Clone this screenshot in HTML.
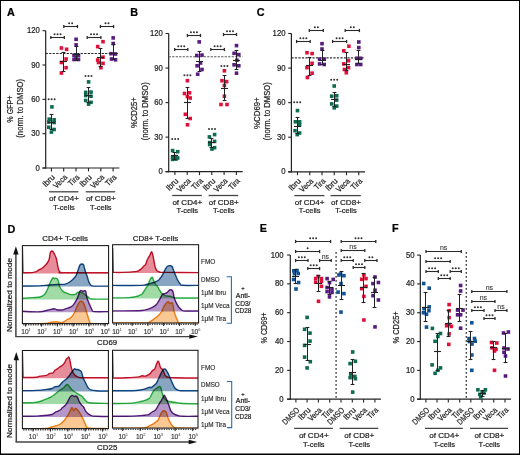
<!DOCTYPE html>
<html><head><meta charset="utf-8"><style>
html,body{margin:0;padding:0;background:#fff;}
svg{display:block;will-change:transform;}
text{font-family:"Liberation Sans",sans-serif;}
</style></head><body>
<svg width="520" height="455" viewBox="0 0 520 455" fill="#222">
<rect x="0.5" y="0.5" width="519" height="454" fill="none" stroke="#000" stroke-width="1"/>
<line x1="0" y1="454.3" x2="520" y2="454.3" stroke="#000" stroke-width="1.4"/>
<text x="7" y="15.8" font-size="10.8" stroke="#000" stroke-width="0.22" font-weight="bold" fill="#000">A</text>
<text x="130.3" y="15.5" font-size="10.8" stroke="#000" stroke-width="0.22" font-weight="bold" fill="#000">B</text>
<text x="256.8" y="16" font-size="10.8" stroke="#000" stroke-width="0.22" font-weight="bold" fill="#000">C</text>
<text x="7.6" y="232.7" font-size="10.8" stroke="#000" stroke-width="0.22" font-weight="bold" fill="#000">D</text>
<text x="259.7" y="232.2" font-size="10.8" stroke="#000" stroke-width="0.22" font-weight="bold" fill="#000">E</text>
<text x="392" y="232.2" font-size="10.8" stroke="#000" stroke-width="0.22" font-weight="bold" fill="#000">F</text>
<line x1="45.7" y1="30.7" x2="45.7" y2="168.5" stroke="#222" stroke-width="1.2"/>
<line x1="42.5" y1="168" x2="45.7" y2="168" stroke="#222" stroke-width="1.1"/>
<text x="39.8" y="170.55" font-size="8.6" stroke="#222" stroke-width="0.22" text-anchor="end" textLength="4.3" lengthAdjust="spacingAndGlyphs">0</text>
<line x1="42.5" y1="133.68" x2="45.7" y2="133.68" stroke="#222" stroke-width="1.1"/>
<text x="39.8" y="136.23" font-size="8.6" stroke="#222" stroke-width="0.22" text-anchor="end" textLength="8.6" lengthAdjust="spacingAndGlyphs">30</text>
<line x1="42.5" y1="99.35" x2="45.7" y2="99.35" stroke="#222" stroke-width="1.1"/>
<text x="39.8" y="101.9" font-size="8.6" stroke="#222" stroke-width="0.22" text-anchor="end" textLength="8.6" lengthAdjust="spacingAndGlyphs">60</text>
<line x1="42.5" y1="65.02" x2="45.7" y2="65.02" stroke="#222" stroke-width="1.1"/>
<text x="39.8" y="67.57" font-size="8.6" stroke="#222" stroke-width="0.22" text-anchor="end" textLength="8.6" lengthAdjust="spacingAndGlyphs">90</text>
<line x1="42.5" y1="30.7" x2="45.7" y2="30.7" stroke="#222" stroke-width="1.1"/>
<text x="39.8" y="33.25" font-size="8.6" stroke="#222" stroke-width="0.22" text-anchor="end" textLength="12.9" lengthAdjust="spacingAndGlyphs">120</text>
<line x1="42.5" y1="168" x2="119.4" y2="168" stroke="#222" stroke-width="1.2"/>
<line x1="51.4" y1="168" x2="51.4" y2="171.4" stroke="#222" stroke-width="1.1"/>
<line x1="63.7" y1="168" x2="63.7" y2="171.4" stroke="#222" stroke-width="1.1"/>
<line x1="76" y1="168" x2="76" y2="171.4" stroke="#222" stroke-width="1.1"/>
<line x1="88.5" y1="168" x2="88.5" y2="171.4" stroke="#222" stroke-width="1.1"/>
<line x1="100.8" y1="168" x2="100.8" y2="171.4" stroke="#222" stroke-width="1.1"/>
<line x1="113.1" y1="168" x2="113.1" y2="171.4" stroke="#222" stroke-width="1.1"/>
<line x1="45.7" y1="53.5" x2="117.8" y2="53.5" stroke="#222" stroke-width="1.1" stroke-dasharray="2.2 1.3"/>
<text x="55.4" y="177.8" font-size="8.2" stroke="#222" stroke-width="0.22" text-anchor="end" textLength="13.8" lengthAdjust="spacingAndGlyphs" transform="rotate(-45 55.4 177.8)">Ibru</text>
<text x="67.7" y="177.8" font-size="8.2" stroke="#222" stroke-width="0.22" text-anchor="end" textLength="15.8" lengthAdjust="spacingAndGlyphs" transform="rotate(-45 67.7 177.8)">Veca</text>
<text x="80" y="177.8" font-size="8.2" stroke="#222" stroke-width="0.22" text-anchor="end" textLength="12.2" lengthAdjust="spacingAndGlyphs" transform="rotate(-45 80 177.8)">Tira</text>
<text x="92.5" y="177.8" font-size="8.2" stroke="#222" stroke-width="0.22" text-anchor="end" textLength="13.8" lengthAdjust="spacingAndGlyphs" transform="rotate(-45 92.5 177.8)">Ibru</text>
<text x="104.8" y="177.8" font-size="8.2" stroke="#222" stroke-width="0.22" text-anchor="end" textLength="15.8" lengthAdjust="spacingAndGlyphs" transform="rotate(-45 104.8 177.8)">Veca</text>
<text x="117.1" y="177.8" font-size="8.2" stroke="#222" stroke-width="0.22" text-anchor="end" textLength="12.2" lengthAdjust="spacingAndGlyphs" transform="rotate(-45 117.1 177.8)">Tira</text>
<line x1="49" y1="191.8" x2="78.4" y2="191.8" stroke="#444" stroke-width="1.3"/>
<line x1="85.8" y1="191.8" x2="115.2" y2="191.8" stroke="#444" stroke-width="1.3"/>
<text x="64" y="200.9" font-size="8" stroke="#222" stroke-width="0.22" text-anchor="middle" textLength="29.8" lengthAdjust="spacingAndGlyphs">of CD4+</text>
<text x="64" y="209.6" font-size="8" stroke="#222" stroke-width="0.22" text-anchor="middle" textLength="21.6" lengthAdjust="spacingAndGlyphs">T-cells</text>
<text x="100.8" y="200.9" font-size="8" stroke="#222" stroke-width="0.22" text-anchor="middle" textLength="29.8" lengthAdjust="spacingAndGlyphs">of CD8+</text>
<text x="100.8" y="209.6" font-size="8" stroke="#222" stroke-width="0.22" text-anchor="middle" textLength="21.6" lengthAdjust="spacingAndGlyphs">T-cells</text>
<text x="12.9" y="109.1" font-size="9" stroke="#222" stroke-width="0.22" text-anchor="middle" textLength="27.2" lengthAdjust="spacingAndGlyphs" transform="rotate(-90 12.9 109.1)">% GFP+</text>
<text x="22.9" y="108.3" font-size="8.6" stroke="#222" stroke-width="0.22" text-anchor="middle" textLength="58.9" lengthAdjust="spacingAndGlyphs" transform="rotate(-90 22.9 108.3)">(norm. to DMSO)</text>
<rect x="50.1" y="105.1" width="3.6" height="3.6" fill="#0d6b52"/>
<rect x="47.4" y="117.4" width="3.6" height="3.6" fill="#0d6b52"/>
<rect x="52.3" y="118" width="3.6" height="3.6" fill="#0d6b52"/>
<rect x="47" y="120.2" width="3.6" height="3.6" fill="#0d6b52"/>
<rect x="52.3" y="120.7" width="3.6" height="3.6" fill="#0d6b52"/>
<rect x="47" y="125.5" width="3.6" height="3.6" fill="#0d6b52"/>
<rect x="52.3" y="127.7" width="3.6" height="3.6" fill="#0d6b52"/>
<rect x="49.6" y="130.3" width="3.6" height="3.6" fill="#0d6b52"/>
<line x1="51.5" y1="114.5" x2="51.5" y2="129.5" stroke="#222" stroke-width="1"/>
<line x1="49.6" y1="114.5" x2="53.4" y2="114.5" stroke="#222" stroke-width="1.1"/>
<line x1="49.6" y1="129.5" x2="53.4" y2="129.5" stroke="#222" stroke-width="1.1"/>
<line x1="48" y1="122.5" x2="55" y2="122.5" stroke="#222" stroke-width="1.1"/>
<rect x="59.6" y="46.2" width="3.6" height="3.6" fill="#e0103a"/>
<rect x="64.8" y="47.5" width="3.6" height="3.6" fill="#e0103a"/>
<rect x="64.3" y="57.2" width="3.6" height="3.6" fill="#e0103a"/>
<rect x="59.6" y="60.7" width="3.6" height="3.6" fill="#e0103a"/>
<rect x="64.3" y="65.9" width="3.6" height="3.6" fill="#e0103a"/>
<rect x="59.6" y="71.2" width="3.6" height="3.6" fill="#e0103a"/>
<line x1="63.5" y1="52.5" x2="63.5" y2="71.5" stroke="#222" stroke-width="1"/>
<line x1="61.6" y1="52.5" x2="65.4" y2="52.5" stroke="#222" stroke-width="1.1"/>
<line x1="61.6" y1="71.5" x2="65.4" y2="71.5" stroke="#222" stroke-width="1.1"/>
<line x1="60" y1="61.5" x2="67" y2="61.5" stroke="#222" stroke-width="1.1"/>
<rect x="74.3" y="37.5" width="3.6" height="3.6" fill="#581b7e"/>
<rect x="74.3" y="43.1" width="3.6" height="3.6" fill="#581b7e"/>
<rect x="72.2" y="53.7" width="3.6" height="3.6" fill="#581b7e"/>
<rect x="76.7" y="53.7" width="3.6" height="3.6" fill="#581b7e"/>
<rect x="72.2" y="57.7" width="3.6" height="3.6" fill="#581b7e"/>
<rect x="76.7" y="57.7" width="3.6" height="3.6" fill="#581b7e"/>
<rect x="74.2" y="56.2" width="3.6" height="3.6" fill="#581b7e"/>
<line x1="76.5" y1="46.5" x2="76.5" y2="60.5" stroke="#222" stroke-width="1"/>
<line x1="74.6" y1="46.5" x2="78.4" y2="46.5" stroke="#222" stroke-width="1.1"/>
<line x1="74.6" y1="60.5" x2="78.4" y2="60.5" stroke="#222" stroke-width="1.1"/>
<line x1="73" y1="54.5" x2="80" y2="54.5" stroke="#222" stroke-width="1.1"/>
<rect x="86.8" y="80.1" width="3.6" height="3.6" fill="#0d6b52"/>
<rect x="83.9" y="90.6" width="3.6" height="3.6" fill="#0d6b52"/>
<rect x="89.2" y="90.3" width="3.6" height="3.6" fill="#0d6b52"/>
<rect x="83.9" y="93.7" width="3.6" height="3.6" fill="#0d6b52"/>
<rect x="89.2" y="94.5" width="3.6" height="3.6" fill="#0d6b52"/>
<rect x="83.9" y="98.7" width="3.6" height="3.6" fill="#0d6b52"/>
<rect x="89.2" y="100.5" width="3.6" height="3.6" fill="#0d6b52"/>
<rect x="86.8" y="102.3" width="3.6" height="3.6" fill="#0d6b52"/>
<line x1="88.5" y1="87.5" x2="88.5" y2="102.5" stroke="#222" stroke-width="1"/>
<line x1="86.6" y1="87.5" x2="90.4" y2="87.5" stroke="#222" stroke-width="1.1"/>
<line x1="86.6" y1="102.5" x2="90.4" y2="102.5" stroke="#222" stroke-width="1.1"/>
<line x1="85" y1="95.5" x2="92" y2="95.5" stroke="#222" stroke-width="1.1"/>
<rect x="101.2" y="39.9" width="3.6" height="3.6" fill="#e0103a"/>
<rect x="95.9" y="44.8" width="3.6" height="3.6" fill="#e0103a"/>
<rect x="101.2" y="55.4" width="3.6" height="3.6" fill="#e0103a"/>
<rect x="95.9" y="58.2" width="3.6" height="3.6" fill="#e0103a"/>
<rect x="96.7" y="60.7" width="3.6" height="3.6" fill="#e0103a"/>
<rect x="101.2" y="61.6" width="3.6" height="3.6" fill="#e0103a"/>
<rect x="99.1" y="65.9" width="3.6" height="3.6" fill="#e0103a"/>
<line x1="100.5" y1="48.5" x2="100.5" y2="66.5" stroke="#222" stroke-width="1"/>
<line x1="98.6" y1="48.5" x2="102.4" y2="48.5" stroke="#222" stroke-width="1.1"/>
<line x1="98.6" y1="66.5" x2="102.4" y2="66.5" stroke="#222" stroke-width="1.1"/>
<line x1="97" y1="57.5" x2="104" y2="57.5" stroke="#222" stroke-width="1.1"/>
<rect x="111.4" y="36.1" width="3.6" height="3.6" fill="#581b7e"/>
<rect x="111.4" y="41.7" width="3.6" height="3.6" fill="#581b7e"/>
<rect x="109.2" y="51.9" width="3.6" height="3.6" fill="#581b7e"/>
<rect x="113.7" y="52.2" width="3.6" height="3.6" fill="#581b7e"/>
<rect x="109.7" y="57.2" width="3.6" height="3.6" fill="#581b7e"/>
<rect x="113.7" y="58" width="3.6" height="3.6" fill="#581b7e"/>
<line x1="113.5" y1="44.5" x2="113.5" y2="59.5" stroke="#222" stroke-width="1"/>
<line x1="111.6" y1="44.5" x2="115.4" y2="44.5" stroke="#222" stroke-width="1.1"/>
<line x1="111.6" y1="59.5" x2="115.4" y2="59.5" stroke="#222" stroke-width="1.1"/>
<line x1="110" y1="53.5" x2="117" y2="53.5" stroke="#222" stroke-width="1.1"/>
<line x1="50.8" y1="37.5" x2="64.3" y2="37.5" stroke="#2a2a2a" stroke-width="1.1"/>
<line x1="50.8" y1="35.9" x2="50.8" y2="39.1" stroke="#2a2a2a" stroke-width="1.3"/>
<line x1="64.3" y1="35.9" x2="64.3" y2="39.1" stroke="#2a2a2a" stroke-width="1.3"/>
<circle cx="54.55" cy="34.2" r="1.0" fill="#333"/>
<circle cx="57.55" cy="34.2" r="1.0" fill="#333"/>
<circle cx="60.55" cy="34.2" r="1.0" fill="#333"/>
<line x1="63.8" y1="26.5" x2="77.5" y2="26.5" stroke="#2a2a2a" stroke-width="1.1"/>
<line x1="63.8" y1="24.9" x2="63.8" y2="28.1" stroke="#2a2a2a" stroke-width="1.3"/>
<line x1="77.5" y1="24.9" x2="77.5" y2="28.1" stroke="#2a2a2a" stroke-width="1.3"/>
<circle cx="69.15" cy="23.2" r="1.0" fill="#333"/>
<circle cx="72.15" cy="23.2" r="1.0" fill="#333"/>
<line x1="87.2" y1="37.5" x2="100.9" y2="37.5" stroke="#2a2a2a" stroke-width="1.1"/>
<line x1="87.2" y1="35.9" x2="87.2" y2="39.1" stroke="#2a2a2a" stroke-width="1.3"/>
<line x1="100.9" y1="35.9" x2="100.9" y2="39.1" stroke="#2a2a2a" stroke-width="1.3"/>
<circle cx="91.05" cy="34.2" r="1.0" fill="#333"/>
<circle cx="94.05" cy="34.2" r="1.0" fill="#333"/>
<circle cx="97.05" cy="34.2" r="1.0" fill="#333"/>
<line x1="100.4" y1="26.5" x2="113.6" y2="26.5" stroke="#2a2a2a" stroke-width="1.1"/>
<line x1="100.4" y1="24.9" x2="100.4" y2="28.1" stroke="#2a2a2a" stroke-width="1.3"/>
<line x1="113.6" y1="24.9" x2="113.6" y2="28.1" stroke="#2a2a2a" stroke-width="1.3"/>
<circle cx="105.5" cy="23.2" r="1.0" fill="#333"/>
<circle cx="108.5" cy="23.2" r="1.0" fill="#333"/>
<circle cx="48.6" cy="99.2" r="1.0" fill="#333"/>
<circle cx="51.6" cy="99.2" r="1.0" fill="#333"/>
<circle cx="54.6" cy="99.2" r="1.0" fill="#333"/>
<circle cx="85.5" cy="76" r="1.0" fill="#333"/>
<circle cx="88.5" cy="76" r="1.0" fill="#333"/>
<circle cx="91.5" cy="76" r="1.0" fill="#333"/>
<line x1="168.7" y1="33.5" x2="168.7" y2="172.2" stroke="#222" stroke-width="1.2"/>
<line x1="165.5" y1="171.7" x2="168.7" y2="171.7" stroke="#222" stroke-width="1.1"/>
<text x="162.8" y="174.25" font-size="8.6" stroke="#222" stroke-width="0.22" text-anchor="end" textLength="4.3" lengthAdjust="spacingAndGlyphs">0</text>
<line x1="165.5" y1="137.15" x2="168.7" y2="137.15" stroke="#222" stroke-width="1.1"/>
<text x="162.8" y="139.7" font-size="8.6" stroke="#222" stroke-width="0.22" text-anchor="end" textLength="8.6" lengthAdjust="spacingAndGlyphs">30</text>
<line x1="165.5" y1="102.6" x2="168.7" y2="102.6" stroke="#222" stroke-width="1.1"/>
<text x="162.8" y="105.15" font-size="8.6" stroke="#222" stroke-width="0.22" text-anchor="end" textLength="8.6" lengthAdjust="spacingAndGlyphs">60</text>
<line x1="165.5" y1="68.05" x2="168.7" y2="68.05" stroke="#222" stroke-width="1.1"/>
<text x="162.8" y="70.6" font-size="8.6" stroke="#222" stroke-width="0.22" text-anchor="end" textLength="8.6" lengthAdjust="spacingAndGlyphs">90</text>
<line x1="165.5" y1="33.5" x2="168.7" y2="33.5" stroke="#222" stroke-width="1.1"/>
<text x="162.8" y="36.05" font-size="8.6" stroke="#222" stroke-width="0.22" text-anchor="end" textLength="12.9" lengthAdjust="spacingAndGlyphs">120</text>
<line x1="165.5" y1="171.7" x2="242.7" y2="171.7" stroke="#222" stroke-width="1.2"/>
<line x1="174.9" y1="171.7" x2="174.9" y2="175.1" stroke="#222" stroke-width="1.1"/>
<line x1="187.2" y1="171.7" x2="187.2" y2="175.1" stroke="#222" stroke-width="1.1"/>
<line x1="199.5" y1="171.7" x2="199.5" y2="175.1" stroke="#222" stroke-width="1.1"/>
<line x1="211.8" y1="171.7" x2="211.8" y2="175.1" stroke="#222" stroke-width="1.1"/>
<line x1="224.1" y1="171.7" x2="224.1" y2="175.1" stroke="#222" stroke-width="1.1"/>
<line x1="236.4" y1="171.7" x2="236.4" y2="175.1" stroke="#222" stroke-width="1.1"/>
<line x1="168.7" y1="56.8" x2="242.5" y2="56.8" stroke="#555" stroke-width="1.1" stroke-dasharray="2.2 1.3"/>
<text x="178.9" y="181.5" font-size="8.2" stroke="#222" stroke-width="0.22" text-anchor="end" textLength="13.8" lengthAdjust="spacingAndGlyphs" transform="rotate(-45 178.9 181.5)">Ibru</text>
<text x="191.2" y="181.5" font-size="8.2" stroke="#222" stroke-width="0.22" text-anchor="end" textLength="15.8" lengthAdjust="spacingAndGlyphs" transform="rotate(-45 191.2 181.5)">Veca</text>
<text x="203.5" y="181.5" font-size="8.2" stroke="#222" stroke-width="0.22" text-anchor="end" textLength="12.2" lengthAdjust="spacingAndGlyphs" transform="rotate(-45 203.5 181.5)">Tira</text>
<text x="215.8" y="181.5" font-size="8.2" stroke="#222" stroke-width="0.22" text-anchor="end" textLength="13.8" lengthAdjust="spacingAndGlyphs" transform="rotate(-45 215.8 181.5)">Ibru</text>
<text x="228.1" y="181.5" font-size="8.2" stroke="#222" stroke-width="0.22" text-anchor="end" textLength="15.8" lengthAdjust="spacingAndGlyphs" transform="rotate(-45 228.1 181.5)">Veca</text>
<text x="240.4" y="181.5" font-size="8.2" stroke="#222" stroke-width="0.22" text-anchor="end" textLength="12.2" lengthAdjust="spacingAndGlyphs" transform="rotate(-45 240.4 181.5)">Tira</text>
<line x1="172.2" y1="195.5" x2="201.8" y2="195.5" stroke="#444" stroke-width="1.3"/>
<line x1="208.6" y1="195.5" x2="238.2" y2="195.5" stroke="#444" stroke-width="1.3"/>
<text x="187.3" y="204.6" font-size="8" stroke="#222" stroke-width="0.22" text-anchor="middle" textLength="29.8" lengthAdjust="spacingAndGlyphs">of CD4+</text>
<text x="187.3" y="213.3" font-size="8" stroke="#222" stroke-width="0.22" text-anchor="middle" textLength="21.6" lengthAdjust="spacingAndGlyphs">T-cells</text>
<text x="223.7" y="204.6" font-size="8" stroke="#222" stroke-width="0.22" text-anchor="middle" textLength="29.8" lengthAdjust="spacingAndGlyphs">of CD8+</text>
<text x="223.7" y="213.3" font-size="8" stroke="#222" stroke-width="0.22" text-anchor="middle" textLength="21.6" lengthAdjust="spacingAndGlyphs">T-cells</text>
<text x="137.4" y="112.7" font-size="9" stroke="#222" stroke-width="0.22" text-anchor="middle" textLength="30.7" lengthAdjust="spacingAndGlyphs" transform="rotate(-90 137.4 112.7)">%CD25+</text>
<text x="147.9" y="111.3" font-size="8.6" stroke="#222" stroke-width="0.22" text-anchor="middle" textLength="58" lengthAdjust="spacingAndGlyphs" transform="rotate(-90 147.9 111.3)">(norm. to DMSO)</text>
<rect x="170.8" y="148.8" width="3.6" height="3.6" fill="#0d6b52"/>
<rect x="175.9" y="149.9" width="3.6" height="3.6" fill="#0d6b52"/>
<rect x="170.8" y="155.3" width="3.6" height="3.6" fill="#0d6b52"/>
<rect x="173.3" y="154.8" width="3.6" height="3.6" fill="#0d6b52"/>
<rect x="175.9" y="156.2" width="3.6" height="3.6" fill="#0d6b52"/>
<rect x="170.8" y="157.6" width="3.6" height="3.6" fill="#0d6b52"/>
<rect x="174.2" y="157.3" width="3.6" height="3.6" fill="#0d6b52"/>
<line x1="174.5" y1="152.5" x2="174.5" y2="159.5" stroke="#222" stroke-width="1"/>
<line x1="172.6" y1="152.5" x2="176.4" y2="152.5" stroke="#222" stroke-width="1.1"/>
<line x1="172.6" y1="159.5" x2="176.4" y2="159.5" stroke="#222" stroke-width="1.1"/>
<line x1="171" y1="155.5" x2="178" y2="155.5" stroke="#222" stroke-width="1.1"/>
<rect x="185.6" y="78.9" width="3.6" height="3.6" fill="#e0103a"/>
<rect x="182.7" y="91.7" width="3.6" height="3.6" fill="#e0103a"/>
<rect x="187.7" y="91" width="3.6" height="3.6" fill="#e0103a"/>
<rect x="185.6" y="94.8" width="3.6" height="3.6" fill="#e0103a"/>
<rect x="188.4" y="96.2" width="3.6" height="3.6" fill="#e0103a"/>
<rect x="183.6" y="112.5" width="3.6" height="3.6" fill="#e0103a"/>
<rect x="188.4" y="116.7" width="3.6" height="3.6" fill="#e0103a"/>
<rect x="185.7" y="123" width="3.6" height="3.6" fill="#e0103a"/>
<line x1="187.5" y1="87.5" x2="187.5" y2="118.5" stroke="#222" stroke-width="1"/>
<line x1="185.6" y1="87.5" x2="189.4" y2="87.5" stroke="#222" stroke-width="1.1"/>
<line x1="185.6" y1="118.5" x2="189.4" y2="118.5" stroke="#222" stroke-width="1.1"/>
<line x1="184" y1="102.5" x2="191" y2="102.5" stroke="#222" stroke-width="1.1"/>
<rect x="197.4" y="40.1" width="3.6" height="3.6" fill="#581b7e"/>
<rect x="195" y="53.7" width="3.6" height="3.6" fill="#581b7e"/>
<rect x="200.2" y="53.3" width="3.6" height="3.6" fill="#581b7e"/>
<rect x="198.7" y="61.2" width="3.6" height="3.6" fill="#581b7e"/>
<rect x="195.3" y="64" width="3.6" height="3.6" fill="#581b7e"/>
<rect x="200.2" y="67.7" width="3.6" height="3.6" fill="#581b7e"/>
<rect x="195.9" y="72.4" width="3.6" height="3.6" fill="#581b7e"/>
<line x1="199.5" y1="51.5" x2="199.5" y2="71.5" stroke="#222" stroke-width="1"/>
<line x1="197.6" y1="51.5" x2="201.4" y2="51.5" stroke="#222" stroke-width="1.1"/>
<line x1="197.6" y1="71.5" x2="201.4" y2="71.5" stroke="#222" stroke-width="1.1"/>
<line x1="196" y1="61.5" x2="203" y2="61.5" stroke="#222" stroke-width="1.1"/>
<rect x="212.8" y="132.8" width="3.6" height="3.6" fill="#0d6b52"/>
<rect x="207.6" y="135.1" width="3.6" height="3.6" fill="#0d6b52"/>
<rect x="212.8" y="139.6" width="3.6" height="3.6" fill="#0d6b52"/>
<rect x="207.9" y="140.8" width="3.6" height="3.6" fill="#0d6b52"/>
<rect x="207.9" y="142.7" width="3.6" height="3.6" fill="#0d6b52"/>
<rect x="212.8" y="145.9" width="3.6" height="3.6" fill="#0d6b52"/>
<rect x="210.2" y="147.3" width="3.6" height="3.6" fill="#0d6b52"/>
<line x1="211.5" y1="138.5" x2="211.5" y2="147.5" stroke="#222" stroke-width="1"/>
<line x1="209.6" y1="138.5" x2="213.4" y2="138.5" stroke="#222" stroke-width="1.1"/>
<line x1="209.6" y1="147.5" x2="213.4" y2="147.5" stroke="#222" stroke-width="1.1"/>
<line x1="208" y1="142.5" x2="215" y2="142.5" stroke="#222" stroke-width="1.1"/>
<rect x="222.6" y="69" width="3.6" height="3.6" fill="#e0103a"/>
<rect x="220.2" y="78.9" width="3.6" height="3.6" fill="#e0103a"/>
<rect x="224.8" y="79.8" width="3.6" height="3.6" fill="#e0103a"/>
<rect x="222.6" y="83.6" width="3.6" height="3.6" fill="#e0103a"/>
<rect x="222.6" y="94.4" width="3.6" height="3.6" fill="#e0103a"/>
<rect x="219.2" y="102.7" width="3.6" height="3.6" fill="#e0103a"/>
<rect x="225.2" y="102.7" width="3.6" height="3.6" fill="#e0103a"/>
<line x1="224.5" y1="75.5" x2="224.5" y2="100.5" stroke="#222" stroke-width="1"/>
<line x1="222.6" y1="75.5" x2="226.4" y2="75.5" stroke="#222" stroke-width="1.1"/>
<line x1="222.6" y1="100.5" x2="226.4" y2="100.5" stroke="#222" stroke-width="1.1"/>
<line x1="221" y1="88.5" x2="228" y2="88.5" stroke="#222" stroke-width="1.1"/>
<rect x="234.7" y="43.8" width="3.6" height="3.6" fill="#581b7e"/>
<rect x="232.3" y="51.5" width="3.6" height="3.6" fill="#581b7e"/>
<rect x="237" y="52.8" width="3.6" height="3.6" fill="#581b7e"/>
<rect x="235.1" y="58.4" width="3.6" height="3.6" fill="#581b7e"/>
<rect x="232.3" y="63" width="3.6" height="3.6" fill="#581b7e"/>
<rect x="237" y="64" width="3.6" height="3.6" fill="#581b7e"/>
<rect x="234.7" y="71.4" width="3.6" height="3.6" fill="#581b7e"/>
<line x1="236.5" y1="50.5" x2="236.5" y2="69.5" stroke="#222" stroke-width="1"/>
<line x1="234.6" y1="50.5" x2="238.4" y2="50.5" stroke="#222" stroke-width="1.1"/>
<line x1="234.6" y1="69.5" x2="238.4" y2="69.5" stroke="#222" stroke-width="1.1"/>
<line x1="233" y1="60.5" x2="240" y2="60.5" stroke="#222" stroke-width="1.1"/>
<line x1="174.7" y1="49.5" x2="187.8" y2="49.5" stroke="#2a2a2a" stroke-width="1.1"/>
<line x1="174.7" y1="47.9" x2="174.7" y2="51.1" stroke="#2a2a2a" stroke-width="1.3"/>
<line x1="187.8" y1="47.9" x2="187.8" y2="51.1" stroke="#2a2a2a" stroke-width="1.3"/>
<circle cx="178.25" cy="46.2" r="1.0" fill="#333"/>
<circle cx="181.25" cy="46.2" r="1.0" fill="#333"/>
<circle cx="184.25" cy="46.2" r="1.0" fill="#333"/>
<line x1="187.4" y1="35.5" x2="200.5" y2="35.5" stroke="#2a2a2a" stroke-width="1.1"/>
<line x1="187.4" y1="33.9" x2="187.4" y2="37.1" stroke="#2a2a2a" stroke-width="1.3"/>
<line x1="200.5" y1="33.9" x2="200.5" y2="37.1" stroke="#2a2a2a" stroke-width="1.3"/>
<circle cx="190.95" cy="32.2" r="1.0" fill="#333"/>
<circle cx="193.95" cy="32.2" r="1.0" fill="#333"/>
<circle cx="196.95" cy="32.2" r="1.0" fill="#333"/>
<line x1="210.8" y1="49.5" x2="224.4" y2="49.5" stroke="#2a2a2a" stroke-width="1.1"/>
<line x1="210.8" y1="47.9" x2="210.8" y2="51.1" stroke="#2a2a2a" stroke-width="1.3"/>
<line x1="224.4" y1="47.9" x2="224.4" y2="51.1" stroke="#2a2a2a" stroke-width="1.3"/>
<circle cx="214.6" cy="46.2" r="1.0" fill="#333"/>
<circle cx="217.6" cy="46.2" r="1.0" fill="#333"/>
<circle cx="220.6" cy="46.2" r="1.0" fill="#333"/>
<line x1="223.5" y1="34.5" x2="236.5" y2="34.5" stroke="#2a2a2a" stroke-width="1.1"/>
<line x1="223.5" y1="32.9" x2="223.5" y2="36.1" stroke="#2a2a2a" stroke-width="1.3"/>
<line x1="236.5" y1="32.9" x2="236.5" y2="36.1" stroke="#2a2a2a" stroke-width="1.3"/>
<circle cx="227" cy="31.2" r="1.0" fill="#333"/>
<circle cx="230" cy="31.2" r="1.0" fill="#333"/>
<circle cx="233" cy="31.2" r="1.0" fill="#333"/>
<circle cx="172.2" cy="139" r="1.0" fill="#333"/>
<circle cx="175.2" cy="139" r="1.0" fill="#333"/>
<circle cx="178.2" cy="139" r="1.0" fill="#333"/>
<circle cx="184.4" cy="75.3" r="1.0" fill="#333"/>
<circle cx="187.4" cy="75.3" r="1.0" fill="#333"/>
<circle cx="190.4" cy="75.3" r="1.0" fill="#333"/>
<circle cx="209" cy="128.9" r="1.0" fill="#333"/>
<circle cx="212" cy="128.9" r="1.0" fill="#333"/>
<circle cx="215" cy="128.9" r="1.0" fill="#333"/>
<circle cx="221.4" cy="65.9" r="1.0" fill="#333"/>
<circle cx="224.4" cy="65.9" r="1.0" fill="#333"/>
<circle cx="227.4" cy="65.9" r="1.0" fill="#333"/>
<line x1="291.4" y1="33.5" x2="291.4" y2="172.3" stroke="#222" stroke-width="1.2"/>
<line x1="288.2" y1="171.8" x2="291.4" y2="171.8" stroke="#222" stroke-width="1.1"/>
<text x="285.5" y="174.35" font-size="8.6" stroke="#222" stroke-width="0.22" text-anchor="end" textLength="4.3" lengthAdjust="spacingAndGlyphs">0</text>
<line x1="288.2" y1="137.23" x2="291.4" y2="137.23" stroke="#222" stroke-width="1.1"/>
<text x="285.5" y="139.78" font-size="8.6" stroke="#222" stroke-width="0.22" text-anchor="end" textLength="8.6" lengthAdjust="spacingAndGlyphs">30</text>
<line x1="288.2" y1="102.65" x2="291.4" y2="102.65" stroke="#222" stroke-width="1.1"/>
<text x="285.5" y="105.2" font-size="8.6" stroke="#222" stroke-width="0.22" text-anchor="end" textLength="8.6" lengthAdjust="spacingAndGlyphs">60</text>
<line x1="288.2" y1="68.08" x2="291.4" y2="68.08" stroke="#222" stroke-width="1.1"/>
<text x="285.5" y="70.62" font-size="8.6" stroke="#222" stroke-width="0.22" text-anchor="end" textLength="8.6" lengthAdjust="spacingAndGlyphs">90</text>
<line x1="288.2" y1="33.5" x2="291.4" y2="33.5" stroke="#222" stroke-width="1.1"/>
<text x="285.5" y="36.05" font-size="8.6" stroke="#222" stroke-width="0.22" text-anchor="end" textLength="12.9" lengthAdjust="spacingAndGlyphs">120</text>
<line x1="288.2" y1="171.8" x2="365.05" y2="171.8" stroke="#222" stroke-width="1.2"/>
<line x1="297.5" y1="171.8" x2="297.5" y2="175.2" stroke="#222" stroke-width="1.1"/>
<line x1="309.75" y1="171.8" x2="309.75" y2="175.2" stroke="#222" stroke-width="1.1"/>
<line x1="322" y1="171.8" x2="322" y2="175.2" stroke="#222" stroke-width="1.1"/>
<line x1="334.25" y1="171.8" x2="334.25" y2="175.2" stroke="#222" stroke-width="1.1"/>
<line x1="346.5" y1="171.8" x2="346.5" y2="175.2" stroke="#222" stroke-width="1.1"/>
<line x1="358.75" y1="171.8" x2="358.75" y2="175.2" stroke="#222" stroke-width="1.1"/>
<line x1="291.4" y1="57.9" x2="365" y2="57.9" stroke="#333" stroke-width="1.1" stroke-dasharray="2.2 1.3"/>
<text x="301.5" y="181.6" font-size="8.2" stroke="#222" stroke-width="0.22" text-anchor="end" textLength="13.8" lengthAdjust="spacingAndGlyphs" transform="rotate(-45 301.5 181.6)">Ibru</text>
<text x="313.75" y="181.6" font-size="8.2" stroke="#222" stroke-width="0.22" text-anchor="end" textLength="15.8" lengthAdjust="spacingAndGlyphs" transform="rotate(-45 313.75 181.6)">Veca</text>
<text x="326" y="181.6" font-size="8.2" stroke="#222" stroke-width="0.22" text-anchor="end" textLength="12.2" lengthAdjust="spacingAndGlyphs" transform="rotate(-45 326 181.6)">Tira</text>
<text x="338.25" y="181.6" font-size="8.2" stroke="#222" stroke-width="0.22" text-anchor="end" textLength="13.8" lengthAdjust="spacingAndGlyphs" transform="rotate(-45 338.25 181.6)">Ibru</text>
<text x="350.5" y="181.6" font-size="8.2" stroke="#222" stroke-width="0.22" text-anchor="end" textLength="15.8" lengthAdjust="spacingAndGlyphs" transform="rotate(-45 350.5 181.6)">Veca</text>
<text x="362.75" y="181.6" font-size="8.2" stroke="#222" stroke-width="0.22" text-anchor="end" textLength="12.2" lengthAdjust="spacingAndGlyphs" transform="rotate(-45 362.75 181.6)">Tira</text>
<line x1="294.3" y1="195.6" x2="324.4" y2="195.6" stroke="#444" stroke-width="1.3"/>
<line x1="330.5" y1="195.6" x2="360.8" y2="195.6" stroke="#444" stroke-width="1.3"/>
<text x="309.65" y="204.7" font-size="8" stroke="#222" stroke-width="0.22" text-anchor="middle" textLength="29.8" lengthAdjust="spacingAndGlyphs">of CD4+</text>
<text x="309.65" y="213.4" font-size="8" stroke="#222" stroke-width="0.22" text-anchor="middle" textLength="21.6" lengthAdjust="spacingAndGlyphs">T-cells</text>
<text x="345.95" y="204.7" font-size="8" stroke="#222" stroke-width="0.22" text-anchor="middle" textLength="29.8" lengthAdjust="spacingAndGlyphs">of CD8+</text>
<text x="345.95" y="213.4" font-size="8" stroke="#222" stroke-width="0.22" text-anchor="middle" textLength="21.6" lengthAdjust="spacingAndGlyphs">T-cells</text>
<text x="259.7" y="113.1" font-size="9" stroke="#222" stroke-width="0.22" text-anchor="middle" textLength="31.6" lengthAdjust="spacingAndGlyphs" transform="rotate(-90 259.7 113.1)">%CD69+</text>
<text x="269.7" y="111.3" font-size="8.6" stroke="#222" stroke-width="0.22" text-anchor="middle" textLength="58" lengthAdjust="spacingAndGlyphs" transform="rotate(-90 269.7 111.3)">(norm. to DMSO)</text>
<rect x="295.7" y="108.8" width="3.6" height="3.6" fill="#0d6b52"/>
<rect x="293.6" y="120" width="3.6" height="3.6" fill="#0d6b52"/>
<rect x="297.8" y="120" width="3.6" height="3.6" fill="#0d6b52"/>
<rect x="297.8" y="123" width="3.6" height="3.6" fill="#0d6b52"/>
<rect x="293.2" y="128.9" width="3.6" height="3.6" fill="#0d6b52"/>
<rect x="297.8" y="131.2" width="3.6" height="3.6" fill="#0d6b52"/>
<rect x="295.4" y="132.8" width="3.6" height="3.6" fill="#0d6b52"/>
<line x1="297.5" y1="117.5" x2="297.5" y2="133.5" stroke="#222" stroke-width="1"/>
<line x1="295.6" y1="117.5" x2="299.4" y2="117.5" stroke="#222" stroke-width="1.1"/>
<line x1="295.6" y1="133.5" x2="299.4" y2="133.5" stroke="#222" stroke-width="1.1"/>
<line x1="294" y1="126.5" x2="301" y2="126.5" stroke="#222" stroke-width="1.1"/>
<rect x="305.2" y="50.9" width="3.6" height="3.6" fill="#e0103a"/>
<rect x="310.3" y="51.8" width="3.6" height="3.6" fill="#e0103a"/>
<rect x="310.3" y="61.5" width="3.6" height="3.6" fill="#e0103a"/>
<rect x="305.2" y="65.8" width="3.6" height="3.6" fill="#e0103a"/>
<rect x="310.3" y="71.4" width="3.6" height="3.6" fill="#e0103a"/>
<rect x="305.6" y="75.7" width="3.6" height="3.6" fill="#e0103a"/>
<line x1="309.5" y1="57.5" x2="309.5" y2="75.5" stroke="#222" stroke-width="1"/>
<line x1="307.6" y1="57.5" x2="311.4" y2="57.5" stroke="#222" stroke-width="1.1"/>
<line x1="307.6" y1="75.5" x2="311.4" y2="75.5" stroke="#222" stroke-width="1.1"/>
<line x1="306" y1="65.5" x2="313" y2="65.5" stroke="#222" stroke-width="1.1"/>
<rect x="320.2" y="41.9" width="3.6" height="3.6" fill="#581b7e"/>
<rect x="320.2" y="47.2" width="3.6" height="3.6" fill="#581b7e"/>
<rect x="317.8" y="57.4" width="3.6" height="3.6" fill="#581b7e"/>
<rect x="322.4" y="57.4" width="3.6" height="3.6" fill="#581b7e"/>
<rect x="317.8" y="62.1" width="3.6" height="3.6" fill="#581b7e"/>
<rect x="322.4" y="62.7" width="3.6" height="3.6" fill="#581b7e"/>
<line x1="322.5" y1="50.5" x2="322.5" y2="64.5" stroke="#222" stroke-width="1"/>
<line x1="320.6" y1="50.5" x2="324.4" y2="50.5" stroke="#222" stroke-width="1.1"/>
<line x1="320.6" y1="64.5" x2="324.4" y2="64.5" stroke="#222" stroke-width="1.1"/>
<line x1="319" y1="60.5" x2="326" y2="60.5" stroke="#222" stroke-width="1.1"/>
<rect x="332.4" y="84.2" width="3.6" height="3.6" fill="#0d6b52"/>
<rect x="329.9" y="94.4" width="3.6" height="3.6" fill="#0d6b52"/>
<rect x="334.9" y="94" width="3.6" height="3.6" fill="#0d6b52"/>
<rect x="334.9" y="98.3" width="3.6" height="3.6" fill="#0d6b52"/>
<rect x="329.9" y="102.1" width="3.6" height="3.6" fill="#0d6b52"/>
<rect x="334.9" y="104.3" width="3.6" height="3.6" fill="#0d6b52"/>
<rect x="332.4" y="106" width="3.6" height="3.6" fill="#0d6b52"/>
<line x1="334.5" y1="92.5" x2="334.5" y2="106.5" stroke="#222" stroke-width="1"/>
<line x1="332.6" y1="92.5" x2="336.4" y2="92.5" stroke="#222" stroke-width="1.1"/>
<line x1="332.6" y1="106.5" x2="336.4" y2="106.5" stroke="#222" stroke-width="1.1"/>
<line x1="331" y1="99.5" x2="338" y2="99.5" stroke="#222" stroke-width="1.1"/>
<rect x="347.1" y="44.4" width="3.6" height="3.6" fill="#e0103a"/>
<rect x="342" y="49" width="3.6" height="3.6" fill="#e0103a"/>
<rect x="346.7" y="58.9" width="3.6" height="3.6" fill="#e0103a"/>
<rect x="342" y="62.1" width="3.6" height="3.6" fill="#e0103a"/>
<rect x="346.7" y="65.8" width="3.6" height="3.6" fill="#e0103a"/>
<rect x="342.6" y="67.7" width="3.6" height="3.6" fill="#e0103a"/>
<rect x="344.5" y="70.9" width="3.6" height="3.6" fill="#e0103a"/>
<line x1="346.5" y1="52.5" x2="346.5" y2="70.5" stroke="#222" stroke-width="1"/>
<line x1="344.6" y1="52.5" x2="348.4" y2="52.5" stroke="#222" stroke-width="1.1"/>
<line x1="344.6" y1="70.5" x2="348.4" y2="70.5" stroke="#222" stroke-width="1.1"/>
<line x1="343" y1="64.5" x2="350" y2="64.5" stroke="#222" stroke-width="1.1"/>
<rect x="357" y="40.2" width="3.6" height="3.6" fill="#581b7e"/>
<rect x="357" y="45.8" width="3.6" height="3.6" fill="#581b7e"/>
<rect x="355.1" y="56.5" width="3.6" height="3.6" fill="#581b7e"/>
<rect x="358.9" y="56.5" width="3.6" height="3.6" fill="#581b7e"/>
<rect x="355.1" y="62.7" width="3.6" height="3.6" fill="#581b7e"/>
<rect x="358.9" y="62.7" width="3.6" height="3.6" fill="#581b7e"/>
<line x1="358.5" y1="50.5" x2="358.5" y2="63.5" stroke="#222" stroke-width="1"/>
<line x1="356.6" y1="50.5" x2="360.4" y2="50.5" stroke="#222" stroke-width="1.1"/>
<line x1="356.6" y1="63.5" x2="360.4" y2="63.5" stroke="#222" stroke-width="1.1"/>
<line x1="355" y1="59.5" x2="362" y2="59.5" stroke="#222" stroke-width="1.1"/>
<line x1="296.6" y1="41.5" x2="310.2" y2="41.5" stroke="#2a2a2a" stroke-width="1.1"/>
<line x1="296.6" y1="39.9" x2="296.6" y2="43.1" stroke="#2a2a2a" stroke-width="1.3"/>
<line x1="310.2" y1="39.9" x2="310.2" y2="43.1" stroke="#2a2a2a" stroke-width="1.3"/>
<circle cx="300.4" cy="38.2" r="1.0" fill="#333"/>
<circle cx="303.4" cy="38.2" r="1.0" fill="#333"/>
<circle cx="306.4" cy="38.2" r="1.0" fill="#333"/>
<line x1="309.3" y1="30.5" x2="323.3" y2="30.5" stroke="#2a2a2a" stroke-width="1.1"/>
<line x1="309.3" y1="28.9" x2="309.3" y2="32.1" stroke="#2a2a2a" stroke-width="1.3"/>
<line x1="323.3" y1="28.9" x2="323.3" y2="32.1" stroke="#2a2a2a" stroke-width="1.3"/>
<circle cx="314.8" cy="27.2" r="1.0" fill="#333"/>
<circle cx="317.8" cy="27.2" r="1.0" fill="#333"/>
<line x1="332.6" y1="41.5" x2="346.6" y2="41.5" stroke="#2a2a2a" stroke-width="1.1"/>
<line x1="332.6" y1="39.9" x2="332.6" y2="43.1" stroke="#2a2a2a" stroke-width="1.3"/>
<line x1="346.6" y1="39.9" x2="346.6" y2="43.1" stroke="#2a2a2a" stroke-width="1.3"/>
<circle cx="336.6" cy="38.2" r="1.0" fill="#333"/>
<circle cx="339.6" cy="38.2" r="1.0" fill="#333"/>
<circle cx="342.6" cy="38.2" r="1.0" fill="#333"/>
<line x1="345.2" y1="30.5" x2="359.4" y2="30.5" stroke="#2a2a2a" stroke-width="1.1"/>
<line x1="345.2" y1="28.9" x2="345.2" y2="32.1" stroke="#2a2a2a" stroke-width="1.3"/>
<line x1="359.4" y1="28.9" x2="359.4" y2="32.1" stroke="#2a2a2a" stroke-width="1.3"/>
<circle cx="350.8" cy="27.2" r="1.0" fill="#333"/>
<circle cx="353.8" cy="27.2" r="1.0" fill="#333"/>
<circle cx="294.2" cy="102.2" r="1.0" fill="#333"/>
<circle cx="297.2" cy="102.2" r="1.0" fill="#333"/>
<circle cx="300.2" cy="102.2" r="1.0" fill="#333"/>
<circle cx="331.2" cy="79.8" r="1.0" fill="#333"/>
<circle cx="334.2" cy="79.8" r="1.0" fill="#333"/>
<circle cx="337.2" cy="79.8" r="1.0" fill="#333"/>
<line x1="290.3" y1="255" x2="290.3" y2="399.7" stroke="#222" stroke-width="1.2"/>
<line x1="287.1" y1="399.2" x2="290.3" y2="399.2" stroke="#222" stroke-width="1.1"/>
<text x="283.6" y="401.75" font-size="8.6" stroke="#222" stroke-width="0.22" text-anchor="end" textLength="4.3" lengthAdjust="spacingAndGlyphs">0</text>
<line x1="287.1" y1="370.36" x2="290.3" y2="370.36" stroke="#222" stroke-width="1.1"/>
<text x="283.6" y="372.91" font-size="8.6" stroke="#222" stroke-width="0.22" text-anchor="end" textLength="8.6" lengthAdjust="spacingAndGlyphs">20</text>
<line x1="287.1" y1="341.52" x2="290.3" y2="341.52" stroke="#222" stroke-width="1.1"/>
<text x="283.6" y="344.07" font-size="8.6" stroke="#222" stroke-width="0.22" text-anchor="end" textLength="8.6" lengthAdjust="spacingAndGlyphs">40</text>
<line x1="287.1" y1="312.68" x2="290.3" y2="312.68" stroke="#222" stroke-width="1.1"/>
<text x="283.6" y="315.23" font-size="8.6" stroke="#222" stroke-width="0.22" text-anchor="end" textLength="8.6" lengthAdjust="spacingAndGlyphs">60</text>
<line x1="287.1" y1="283.84" x2="290.3" y2="283.84" stroke="#222" stroke-width="1.1"/>
<text x="283.6" y="286.39" font-size="8.6" stroke="#222" stroke-width="0.22" text-anchor="end" textLength="8.6" lengthAdjust="spacingAndGlyphs">80</text>
<line x1="287.1" y1="255" x2="290.3" y2="255" stroke="#222" stroke-width="1.1"/>
<text x="283.6" y="257.55" font-size="8.6" stroke="#222" stroke-width="0.22" text-anchor="end" textLength="12.9" lengthAdjust="spacingAndGlyphs">100</text>
<line x1="287.1" y1="399.2" x2="380.9" y2="399.2" stroke="#222" stroke-width="1.2"/>
<line x1="295.9" y1="399.2" x2="295.9" y2="402.6" stroke="#222" stroke-width="1.1"/>
<line x1="307.1" y1="399.2" x2="307.1" y2="402.6" stroke="#222" stroke-width="1.1"/>
<line x1="318.4" y1="399.2" x2="318.4" y2="402.6" stroke="#222" stroke-width="1.1"/>
<line x1="329.7" y1="399.2" x2="329.7" y2="402.6" stroke="#222" stroke-width="1.1"/>
<line x1="341" y1="399.2" x2="341" y2="402.6" stroke="#222" stroke-width="1.1"/>
<line x1="352.3" y1="399.2" x2="352.3" y2="402.6" stroke="#222" stroke-width="1.1"/>
<line x1="363.6" y1="399.2" x2="363.6" y2="402.6" stroke="#222" stroke-width="1.1"/>
<line x1="374.9" y1="399.2" x2="374.9" y2="402.6" stroke="#222" stroke-width="1.1"/>
<line x1="336.1" y1="252.1" x2="336.1" y2="399.2" stroke="#333" stroke-width="1.3" stroke-dasharray="1.6 2.4"/>
<text x="299.9" y="410.7" font-size="8.2" stroke="#222" stroke-width="0.22" text-anchor="end" textLength="20.5" lengthAdjust="spacingAndGlyphs" transform="rotate(-45 299.9 410.7)">DMSO</text>
<text x="311.1" y="410.7" font-size="8.2" stroke="#222" stroke-width="0.22" text-anchor="end" textLength="13.8" lengthAdjust="spacingAndGlyphs" transform="rotate(-45 311.1 410.7)">Ibru</text>
<text x="322.4" y="410.7" font-size="8.2" stroke="#222" stroke-width="0.22" text-anchor="end" textLength="15.8" lengthAdjust="spacingAndGlyphs" transform="rotate(-45 322.4 410.7)">Veca</text>
<text x="333.7" y="410.7" font-size="8.2" stroke="#222" stroke-width="0.22" text-anchor="end" textLength="12.2" lengthAdjust="spacingAndGlyphs" transform="rotate(-45 333.7 410.7)">Tira</text>
<text x="345" y="410.7" font-size="8.2" stroke="#222" stroke-width="0.22" text-anchor="end" textLength="20.5" lengthAdjust="spacingAndGlyphs" transform="rotate(-45 345 410.7)">DMSO</text>
<text x="356.3" y="410.7" font-size="8.2" stroke="#222" stroke-width="0.22" text-anchor="end" textLength="13.8" lengthAdjust="spacingAndGlyphs" transform="rotate(-45 356.3 410.7)">Ibru</text>
<text x="367.6" y="410.7" font-size="8.2" stroke="#222" stroke-width="0.22" text-anchor="end" textLength="15.8" lengthAdjust="spacingAndGlyphs" transform="rotate(-45 367.6 410.7)">Veca</text>
<text x="378.9" y="410.7" font-size="8.2" stroke="#222" stroke-width="0.22" text-anchor="end" textLength="12.2" lengthAdjust="spacingAndGlyphs" transform="rotate(-45 378.9 410.7)">Tira</text>
<line x1="294.1" y1="428.3" x2="332.9" y2="428.3" stroke="#444" stroke-width="1.3"/>
<line x1="339.6" y1="428.3" x2="378.3" y2="428.3" stroke="#444" stroke-width="1.3"/>
<text x="313.8" y="438.1" font-size="8" stroke="#222" stroke-width="0.22" text-anchor="middle" textLength="29.8" lengthAdjust="spacingAndGlyphs">of CD4+</text>
<text x="313.8" y="447.3" font-size="8" stroke="#222" stroke-width="0.22" text-anchor="middle" textLength="21.6" lengthAdjust="spacingAndGlyphs">T-cells</text>
<text x="359.25" y="438.1" font-size="8" stroke="#222" stroke-width="0.22" text-anchor="middle" textLength="29.8" lengthAdjust="spacingAndGlyphs">of CD8+</text>
<text x="359.25" y="447.3" font-size="8" stroke="#222" stroke-width="0.22" text-anchor="middle" textLength="21.6" lengthAdjust="spacingAndGlyphs">T-cells</text>
<text x="267.2" y="328" font-size="9" stroke="#222" stroke-width="0.22" text-anchor="middle" textLength="31" lengthAdjust="spacingAndGlyphs" transform="rotate(-90 267.2 328)">% CD69+</text>
<rect x="292" y="269" width="3.6" height="3.6" fill="#135393"/>
<rect x="295.2" y="268.7" width="3.6" height="3.6" fill="#135393"/>
<rect x="292.6" y="271.9" width="3.6" height="3.6" fill="#135393"/>
<rect x="296.4" y="271.7" width="3.6" height="3.6" fill="#135393"/>
<rect x="291.8" y="277.7" width="3.6" height="3.6" fill="#135393"/>
<rect x="296.8" y="280.7" width="3.6" height="3.6" fill="#135393"/>
<rect x="294.2" y="287.2" width="3.6" height="3.6" fill="#135393"/>
<line x1="295.5" y1="269.5" x2="295.5" y2="283.5" stroke="#222" stroke-width="1"/>
<line x1="293.6" y1="269.5" x2="297.4" y2="269.5" stroke="#222" stroke-width="1.1"/>
<line x1="293.6" y1="283.5" x2="297.4" y2="283.5" stroke="#222" stroke-width="1.1"/>
<line x1="292" y1="276.5" x2="299" y2="276.5" stroke="#222" stroke-width="1.1"/>
<rect x="305.3" y="315.6" width="3.6" height="3.6" fill="#0d6b52"/>
<rect x="302.8" y="327.5" width="3.6" height="3.6" fill="#0d6b52"/>
<rect x="308.2" y="331.3" width="3.6" height="3.6" fill="#0d6b52"/>
<rect x="308.2" y="339.3" width="3.6" height="3.6" fill="#0d6b52"/>
<rect x="302.8" y="343.6" width="3.6" height="3.6" fill="#0d6b52"/>
<rect x="302.8" y="355.3" width="3.6" height="3.6" fill="#0d6b52"/>
<rect x="308.5" y="359.9" width="3.6" height="3.6" fill="#0d6b52"/>
<rect x="305.3" y="366.1" width="3.6" height="3.6" fill="#0d6b52"/>
<line x1="307.5" y1="327.5" x2="307.5" y2="360.5" stroke="#222" stroke-width="1"/>
<line x1="305.6" y1="327.5" x2="309.4" y2="327.5" stroke="#222" stroke-width="1.1"/>
<line x1="305.6" y1="360.5" x2="309.4" y2="360.5" stroke="#222" stroke-width="1.1"/>
<line x1="304" y1="344.5" x2="311" y2="344.5" stroke="#222" stroke-width="1.1"/>
<rect x="313.9" y="276.8" width="3.6" height="3.6" fill="#e0103a"/>
<rect x="316.3" y="274.7" width="3.6" height="3.6" fill="#e0103a"/>
<rect x="319.6" y="276.8" width="3.6" height="3.6" fill="#e0103a"/>
<rect x="313.9" y="280.4" width="3.6" height="3.6" fill="#e0103a"/>
<rect x="319.6" y="279.7" width="3.6" height="3.6" fill="#e0103a"/>
<rect x="319.6" y="284.5" width="3.6" height="3.6" fill="#e0103a"/>
<rect x="316.7" y="299.5" width="3.6" height="3.6" fill="#e0103a"/>
<line x1="318.5" y1="275.5" x2="318.5" y2="291.5" stroke="#222" stroke-width="1"/>
<line x1="316.6" y1="275.5" x2="320.4" y2="275.5" stroke="#222" stroke-width="1.1"/>
<line x1="316.6" y1="291.5" x2="320.4" y2="291.5" stroke="#222" stroke-width="1.1"/>
<line x1="315" y1="283.5" x2="322" y2="283.5" stroke="#222" stroke-width="1.1"/>
<rect x="325.3" y="276.8" width="3.6" height="3.6" fill="#581b7e"/>
<rect x="331.4" y="277.6" width="3.6" height="3.6" fill="#581b7e"/>
<rect x="327.7" y="280.8" width="3.6" height="3.6" fill="#581b7e"/>
<rect x="325.3" y="285.7" width="3.6" height="3.6" fill="#581b7e"/>
<rect x="330.2" y="287.3" width="3.6" height="3.6" fill="#581b7e"/>
<rect x="325.3" y="289.8" width="3.6" height="3.6" fill="#581b7e"/>
<rect x="330.2" y="290.6" width="3.6" height="3.6" fill="#581b7e"/>
<rect x="327.7" y="295.1" width="3.6" height="3.6" fill="#581b7e"/>
<line x1="329.5" y1="281.5" x2="329.5" y2="294.5" stroke="#222" stroke-width="1"/>
<line x1="327.6" y1="281.5" x2="331.4" y2="281.5" stroke="#222" stroke-width="1.1"/>
<line x1="327.6" y1="294.5" x2="331.4" y2="294.5" stroke="#222" stroke-width="1.1"/>
<line x1="326" y1="287.5" x2="333" y2="287.5" stroke="#222" stroke-width="1.1"/>
<rect x="337.1" y="273.2" width="3.6" height="3.6" fill="#135393"/>
<rect x="342.1" y="273.9" width="3.6" height="3.6" fill="#135393"/>
<rect x="339.2" y="281.8" width="3.6" height="3.6" fill="#135393"/>
<rect x="336.3" y="290.3" width="3.6" height="3.6" fill="#135393"/>
<rect x="342.1" y="291.8" width="3.6" height="3.6" fill="#135393"/>
<rect x="339.2" y="310.3" width="3.6" height="3.6" fill="#135393"/>
<rect x="338.7" y="272.2" width="3.6" height="3.6" fill="#135393"/>
<line x1="341.5" y1="271.5" x2="341.5" y2="299.5" stroke="#222" stroke-width="1"/>
<line x1="339.6" y1="271.5" x2="343.4" y2="271.5" stroke="#222" stroke-width="1.1"/>
<line x1="339.6" y1="299.5" x2="343.4" y2="299.5" stroke="#222" stroke-width="1.1"/>
<line x1="338" y1="285.5" x2="345" y2="285.5" stroke="#222" stroke-width="1.1"/>
<rect x="350.9" y="350.2" width="3.6" height="3.6" fill="#0d6b52"/>
<rect x="353.6" y="359.5" width="3.6" height="3.6" fill="#0d6b52"/>
<rect x="348.3" y="361.8" width="3.6" height="3.6" fill="#0d6b52"/>
<rect x="348.9" y="372.3" width="3.6" height="3.6" fill="#0d6b52"/>
<rect x="348.3" y="375.8" width="3.6" height="3.6" fill="#0d6b52"/>
<rect x="353" y="374.6" width="3.6" height="3.6" fill="#0d6b52"/>
<rect x="353.6" y="376.9" width="3.6" height="3.6" fill="#0d6b52"/>
<rect x="350.9" y="390.3" width="3.6" height="3.6" fill="#0d6b52"/>
<line x1="352.5" y1="359.5" x2="352.5" y2="384.5" stroke="#222" stroke-width="1"/>
<line x1="350.6" y1="359.5" x2="354.4" y2="359.5" stroke="#222" stroke-width="1.1"/>
<line x1="350.6" y1="384.5" x2="354.4" y2="384.5" stroke="#222" stroke-width="1.1"/>
<line x1="349" y1="372.5" x2="356" y2="372.5" stroke="#222" stroke-width="1.1"/>
<rect x="362.1" y="273.2" width="3.6" height="3.6" fill="#e0103a"/>
<rect x="359.9" y="277.5" width="3.6" height="3.6" fill="#e0103a"/>
<rect x="364.2" y="276.8" width="3.6" height="3.6" fill="#e0103a"/>
<rect x="359.9" y="286.8" width="3.6" height="3.6" fill="#e0103a"/>
<rect x="364.2" y="284.6" width="3.6" height="3.6" fill="#e0103a"/>
<rect x="362.1" y="294.6" width="3.6" height="3.6" fill="#e0103a"/>
<rect x="362.1" y="318.2" width="3.6" height="3.6" fill="#e0103a"/>
<line x1="363.5" y1="273.5" x2="363.5" y2="302.5" stroke="#222" stroke-width="1"/>
<line x1="361.6" y1="273.5" x2="365.4" y2="273.5" stroke="#222" stroke-width="1.1"/>
<line x1="361.6" y1="302.5" x2="365.4" y2="302.5" stroke="#222" stroke-width="1.1"/>
<line x1="360" y1="287.5" x2="367" y2="287.5" stroke="#222" stroke-width="1.1"/>
<rect x="373.2" y="275.2" width="3.6" height="3.6" fill="#581b7e"/>
<rect x="371.2" y="281.8" width="3.6" height="3.6" fill="#581b7e"/>
<rect x="376.6" y="280.7" width="3.6" height="3.6" fill="#581b7e"/>
<rect x="373.2" y="288.4" width="3.6" height="3.6" fill="#581b7e"/>
<rect x="371.2" y="293.9" width="3.6" height="3.6" fill="#581b7e"/>
<rect x="376.6" y="298.2" width="3.6" height="3.6" fill="#581b7e"/>
<rect x="373.2" y="325.1" width="3.6" height="3.6" fill="#581b7e"/>
<line x1="374.5" y1="277.5" x2="374.5" y2="307.5" stroke="#222" stroke-width="1"/>
<line x1="372.6" y1="277.5" x2="376.4" y2="277.5" stroke="#222" stroke-width="1.1"/>
<line x1="372.6" y1="307.5" x2="376.4" y2="307.5" stroke="#222" stroke-width="1.1"/>
<line x1="371" y1="292.5" x2="378" y2="292.5" stroke="#222" stroke-width="1.1"/>
<line x1="295.6" y1="241.5" x2="330.6" y2="241.5" stroke="#2a2a2a" stroke-width="1.1"/>
<line x1="295.6" y1="239.9" x2="295.6" y2="243.1" stroke="#2a2a2a" stroke-width="1.3"/>
<line x1="330.6" y1="239.9" x2="330.6" y2="243.1" stroke="#2a2a2a" stroke-width="1.3"/>
<circle cx="310.1" cy="238.2" r="1.0" fill="#333"/>
<circle cx="313.1" cy="238.2" r="1.0" fill="#333"/>
<circle cx="316.1" cy="238.2" r="1.0" fill="#333"/>
<line x1="295.6" y1="251.5" x2="319.6" y2="251.5" stroke="#2a2a2a" stroke-width="1.1"/>
<line x1="295.6" y1="249.9" x2="295.6" y2="253.1" stroke="#2a2a2a" stroke-width="1.3"/>
<line x1="319.6" y1="249.9" x2="319.6" y2="253.1" stroke="#2a2a2a" stroke-width="1.3"/>
<circle cx="307.6" cy="248.2" r="1.0" fill="#333"/>
<line x1="295.6" y1="260.5" x2="308" y2="260.5" stroke="#2a2a2a" stroke-width="1.1"/>
<line x1="295.6" y1="258.9" x2="295.6" y2="262.1" stroke="#2a2a2a" stroke-width="1.3"/>
<line x1="308" y1="258.9" x2="308" y2="262.1" stroke="#2a2a2a" stroke-width="1.3"/>
<circle cx="298.8" cy="257.2" r="1.0" fill="#333"/>
<circle cx="301.8" cy="257.2" r="1.0" fill="#333"/>
<circle cx="304.8" cy="257.2" r="1.0" fill="#333"/>
<line x1="307.8" y1="268.5" x2="319.6" y2="268.5" stroke="#2a2a2a" stroke-width="1.1"/>
<line x1="307.8" y1="266.9" x2="307.8" y2="270.1" stroke="#2a2a2a" stroke-width="1.3"/>
<line x1="319.6" y1="266.9" x2="319.6" y2="270.1" stroke="#2a2a2a" stroke-width="1.3"/>
<circle cx="310.7" cy="265.2" r="1.0" fill="#333"/>
<circle cx="313.7" cy="265.2" r="1.0" fill="#333"/>
<circle cx="316.7" cy="265.2" r="1.0" fill="#333"/>
<line x1="319.6" y1="260.5" x2="331.2" y2="260.5" stroke="#2a2a2a" stroke-width="1.1"/>
<line x1="319.6" y1="258.9" x2="319.6" y2="262.1" stroke="#2a2a2a" stroke-width="1.3"/>
<line x1="331.2" y1="258.9" x2="331.2" y2="262.1" stroke="#2a2a2a" stroke-width="1.3"/>
<text x="325.4" y="258.9" font-size="7" stroke="#333" stroke-width="0.08" text-anchor="middle" fill="#333">ns</text>
<line x1="341.2" y1="241.5" x2="375.8" y2="241.5" stroke="#2a2a2a" stroke-width="1.1"/>
<line x1="341.2" y1="239.9" x2="341.2" y2="243.1" stroke="#2a2a2a" stroke-width="1.3"/>
<line x1="375.8" y1="239.9" x2="375.8" y2="243.1" stroke="#2a2a2a" stroke-width="1.3"/>
<circle cx="355.5" cy="238.2" r="1.0" fill="#333"/>
<circle cx="358.5" cy="238.2" r="1.0" fill="#333"/>
<circle cx="361.5" cy="238.2" r="1.0" fill="#333"/>
<line x1="341.2" y1="250.5" x2="364.8" y2="250.5" stroke="#2a2a2a" stroke-width="1.1"/>
<line x1="341.2" y1="248.9" x2="341.2" y2="252.1" stroke="#2a2a2a" stroke-width="1.3"/>
<line x1="364.8" y1="248.9" x2="364.8" y2="252.1" stroke="#2a2a2a" stroke-width="1.3"/>
<text x="353" y="248.9" font-size="7" stroke="#333" stroke-width="0.08" text-anchor="middle" fill="#333">ns</text>
<line x1="341.2" y1="260.5" x2="353.3" y2="260.5" stroke="#2a2a2a" stroke-width="1.1"/>
<line x1="341.2" y1="258.9" x2="341.2" y2="262.1" stroke="#2a2a2a" stroke-width="1.3"/>
<line x1="353.3" y1="258.9" x2="353.3" y2="262.1" stroke="#2a2a2a" stroke-width="1.3"/>
<circle cx="344.25" cy="257.2" r="1.0" fill="#333"/>
<circle cx="347.25" cy="257.2" r="1.0" fill="#333"/>
<circle cx="350.25" cy="257.2" r="1.0" fill="#333"/>
<line x1="353.2" y1="267.5" x2="364.8" y2="267.5" stroke="#2a2a2a" stroke-width="1.1"/>
<line x1="353.2" y1="265.9" x2="353.2" y2="269.1" stroke="#2a2a2a" stroke-width="1.3"/>
<line x1="364.8" y1="265.9" x2="364.8" y2="269.1" stroke="#2a2a2a" stroke-width="1.3"/>
<circle cx="356" cy="264.2" r="1.0" fill="#333"/>
<circle cx="359" cy="264.2" r="1.0" fill="#333"/>
<circle cx="362" cy="264.2" r="1.0" fill="#333"/>
<line x1="364.8" y1="260.5" x2="377" y2="260.5" stroke="#2a2a2a" stroke-width="1.1"/>
<line x1="364.8" y1="258.9" x2="364.8" y2="262.1" stroke="#2a2a2a" stroke-width="1.3"/>
<line x1="377" y1="258.9" x2="377" y2="262.1" stroke="#2a2a2a" stroke-width="1.3"/>
<circle cx="369.4" cy="257.2" r="1.0" fill="#333"/>
<circle cx="372.4" cy="257.2" r="1.0" fill="#333"/>
<line x1="420.3" y1="255.1" x2="420.3" y2="399.7" stroke="#222" stroke-width="1.2"/>
<line x1="417.1" y1="399.2" x2="420.3" y2="399.2" stroke="#222" stroke-width="1.1"/>
<text x="414.6" y="401.75" font-size="8.6" stroke="#222" stroke-width="0.22" text-anchor="end" textLength="4.3" lengthAdjust="spacingAndGlyphs">0</text>
<line x1="417.1" y1="370.38" x2="420.3" y2="370.38" stroke="#222" stroke-width="1.1"/>
<text x="414.6" y="372.93" font-size="8.6" stroke="#222" stroke-width="0.22" text-anchor="end" textLength="8.6" lengthAdjust="spacingAndGlyphs">10</text>
<line x1="417.1" y1="341.56" x2="420.3" y2="341.56" stroke="#222" stroke-width="1.1"/>
<text x="414.6" y="344.11" font-size="8.6" stroke="#222" stroke-width="0.22" text-anchor="end" textLength="8.6" lengthAdjust="spacingAndGlyphs">20</text>
<line x1="417.1" y1="312.74" x2="420.3" y2="312.74" stroke="#222" stroke-width="1.1"/>
<text x="414.6" y="315.29" font-size="8.6" stroke="#222" stroke-width="0.22" text-anchor="end" textLength="8.6" lengthAdjust="spacingAndGlyphs">30</text>
<line x1="417.1" y1="283.92" x2="420.3" y2="283.92" stroke="#222" stroke-width="1.1"/>
<text x="414.6" y="286.47" font-size="8.6" stroke="#222" stroke-width="0.22" text-anchor="end" textLength="8.6" lengthAdjust="spacingAndGlyphs">40</text>
<line x1="417.1" y1="255.1" x2="420.3" y2="255.1" stroke="#222" stroke-width="1.1"/>
<text x="414.6" y="257.65" font-size="8.6" stroke="#222" stroke-width="0.22" text-anchor="end" textLength="8.6" lengthAdjust="spacingAndGlyphs">50</text>
<line x1="417.1" y1="399.2" x2="511" y2="399.2" stroke="#222" stroke-width="1.2"/>
<line x1="425.9" y1="399.2" x2="425.9" y2="402.6" stroke="#222" stroke-width="1.1"/>
<line x1="437" y1="399.2" x2="437" y2="402.6" stroke="#222" stroke-width="1.1"/>
<line x1="448.3" y1="399.2" x2="448.3" y2="402.6" stroke="#222" stroke-width="1.1"/>
<line x1="459.7" y1="399.2" x2="459.7" y2="402.6" stroke="#222" stroke-width="1.1"/>
<line x1="470.8" y1="399.2" x2="470.8" y2="402.6" stroke="#222" stroke-width="1.1"/>
<line x1="482" y1="399.2" x2="482" y2="402.6" stroke="#222" stroke-width="1.1"/>
<line x1="493.7" y1="399.2" x2="493.7" y2="402.6" stroke="#222" stroke-width="1.1"/>
<line x1="505" y1="399.2" x2="505" y2="402.6" stroke="#222" stroke-width="1.1"/>
<line x1="466.3" y1="252.1" x2="466.3" y2="399.2" stroke="#333" stroke-width="1.3" stroke-dasharray="1.6 2.4"/>
<text x="429.9" y="410.7" font-size="8.2" stroke="#222" stroke-width="0.22" text-anchor="end" textLength="20.5" lengthAdjust="spacingAndGlyphs" transform="rotate(-45 429.9 410.7)">DMSO</text>
<text x="441" y="410.7" font-size="8.2" stroke="#222" stroke-width="0.22" text-anchor="end" textLength="13.8" lengthAdjust="spacingAndGlyphs" transform="rotate(-45 441 410.7)">Ibru</text>
<text x="452.3" y="410.7" font-size="8.2" stroke="#222" stroke-width="0.22" text-anchor="end" textLength="15.8" lengthAdjust="spacingAndGlyphs" transform="rotate(-45 452.3 410.7)">Veca</text>
<text x="463.7" y="410.7" font-size="8.2" stroke="#222" stroke-width="0.22" text-anchor="end" textLength="12.2" lengthAdjust="spacingAndGlyphs" transform="rotate(-45 463.7 410.7)">Tira</text>
<text x="474.8" y="410.7" font-size="8.2" stroke="#222" stroke-width="0.22" text-anchor="end" textLength="20.5" lengthAdjust="spacingAndGlyphs" transform="rotate(-45 474.8 410.7)">DMSO</text>
<text x="486" y="410.7" font-size="8.2" stroke="#222" stroke-width="0.22" text-anchor="end" textLength="13.8" lengthAdjust="spacingAndGlyphs" transform="rotate(-45 486 410.7)">Ibru</text>
<text x="497.7" y="410.7" font-size="8.2" stroke="#222" stroke-width="0.22" text-anchor="end" textLength="15.8" lengthAdjust="spacingAndGlyphs" transform="rotate(-45 497.7 410.7)">Veca</text>
<text x="509" y="410.7" font-size="8.2" stroke="#222" stroke-width="0.22" text-anchor="end" textLength="12.2" lengthAdjust="spacingAndGlyphs" transform="rotate(-45 509 410.7)">Tira</text>
<line x1="425" y1="428.3" x2="462.8" y2="428.3" stroke="#444" stroke-width="1.3"/>
<line x1="470" y1="428.3" x2="508" y2="428.3" stroke="#444" stroke-width="1.3"/>
<text x="444.2" y="438.1" font-size="8" stroke="#222" stroke-width="0.22" text-anchor="middle" textLength="29.8" lengthAdjust="spacingAndGlyphs">of CD4+</text>
<text x="444.2" y="447.3" font-size="8" stroke="#222" stroke-width="0.22" text-anchor="middle" textLength="21.6" lengthAdjust="spacingAndGlyphs">T-cells</text>
<text x="489.3" y="438.1" font-size="8" stroke="#222" stroke-width="0.22" text-anchor="middle" textLength="29.8" lengthAdjust="spacingAndGlyphs">of CD8+</text>
<text x="489.3" y="447.3" font-size="8" stroke="#222" stroke-width="0.22" text-anchor="middle" textLength="21.6" lengthAdjust="spacingAndGlyphs">T-cells</text>
<text x="399.5" y="327.4" font-size="9" stroke="#222" stroke-width="0.22" text-anchor="middle" textLength="32.3" lengthAdjust="spacingAndGlyphs" transform="rotate(-90 399.5 327.4)">% CD25+</text>
<rect x="421.9" y="281.7" width="3.6" height="3.6" fill="#135393"/>
<rect x="427.4" y="286.4" width="3.6" height="3.6" fill="#135393"/>
<rect x="422.3" y="306.9" width="3.6" height="3.6" fill="#135393"/>
<rect x="427.4" y="305.1" width="3.6" height="3.6" fill="#135393"/>
<rect x="421.7" y="311" width="3.6" height="3.6" fill="#135393"/>
<rect x="424.7" y="312.4" width="3.6" height="3.6" fill="#135393"/>
<rect x="427.1" y="308.9" width="3.6" height="3.6" fill="#135393"/>
<rect x="424.7" y="325.3" width="3.6" height="3.6" fill="#135393"/>
<line x1="425.5" y1="292.5" x2="425.5" y2="321.5" stroke="#222" stroke-width="1"/>
<line x1="423.6" y1="292.5" x2="427.4" y2="292.5" stroke="#222" stroke-width="1.1"/>
<line x1="423.6" y1="321.5" x2="427.4" y2="321.5" stroke="#222" stroke-width="1.1"/>
<line x1="422" y1="307.5" x2="429" y2="307.5" stroke="#222" stroke-width="1.1"/>
<rect x="430.6" y="326.6" width="3.6" height="3.6" fill="#0d6b52"/>
<rect x="438.7" y="331.7" width="3.6" height="3.6" fill="#0d6b52"/>
<rect x="436.1" y="334.7" width="3.6" height="3.6" fill="#0d6b52"/>
<rect x="433.3" y="339.5" width="3.6" height="3.6" fill="#0d6b52"/>
<rect x="430.3" y="363.1" width="3.6" height="3.6" fill="#0d6b52"/>
<rect x="438.7" y="366.1" width="3.6" height="3.6" fill="#0d6b52"/>
<rect x="436.1" y="368.5" width="3.6" height="3.6" fill="#0d6b52"/>
<rect x="433.3" y="371.5" width="3.6" height="3.6" fill="#0d6b52"/>
<line x1="437.5" y1="333.5" x2="437.5" y2="370.5" stroke="#222" stroke-width="1"/>
<line x1="435.6" y1="333.5" x2="439.4" y2="333.5" stroke="#222" stroke-width="1.1"/>
<line x1="435.6" y1="370.5" x2="439.4" y2="370.5" stroke="#222" stroke-width="1.1"/>
<line x1="434" y1="351.5" x2="441" y2="351.5" stroke="#222" stroke-width="1.1"/>
<rect x="447.3" y="302.8" width="3.6" height="3.6" fill="#e0103a"/>
<rect x="447.3" y="308.9" width="3.6" height="3.6" fill="#e0103a"/>
<rect x="447.3" y="315.8" width="3.6" height="3.6" fill="#e0103a"/>
<rect x="444.8" y="323.9" width="3.6" height="3.6" fill="#e0103a"/>
<rect x="449.6" y="324.6" width="3.6" height="3.6" fill="#e0103a"/>
<rect x="447.3" y="322.7" width="3.6" height="3.6" fill="#e0103a"/>
<rect x="447.3" y="332.1" width="3.6" height="3.6" fill="#e0103a"/>
<rect x="447" y="342.6" width="3.6" height="3.6" fill="#e0103a"/>
<line x1="448.5" y1="310.5" x2="448.5" y2="336.5" stroke="#222" stroke-width="1"/>
<line x1="446.6" y1="310.5" x2="450.4" y2="310.5" stroke="#222" stroke-width="1.1"/>
<line x1="446.6" y1="336.5" x2="450.4" y2="336.5" stroke="#222" stroke-width="1.1"/>
<line x1="445" y1="323.5" x2="452" y2="323.5" stroke="#222" stroke-width="1.1"/>
<rect x="458.8" y="283.7" width="3.6" height="3.6" fill="#581b7e"/>
<rect x="458.8" y="289.2" width="3.6" height="3.6" fill="#581b7e"/>
<rect x="455.8" y="308.3" width="3.6" height="3.6" fill="#581b7e"/>
<rect x="461.2" y="308.3" width="3.6" height="3.6" fill="#581b7e"/>
<rect x="455.8" y="313" width="3.6" height="3.6" fill="#581b7e"/>
<rect x="458.8" y="313" width="3.6" height="3.6" fill="#581b7e"/>
<rect x="458.8" y="326.4" width="3.6" height="3.6" fill="#581b7e"/>
<line x1="459.5" y1="294.5" x2="459.5" y2="321.5" stroke="#222" stroke-width="1"/>
<line x1="457.6" y1="294.5" x2="461.4" y2="294.5" stroke="#222" stroke-width="1.1"/>
<line x1="457.6" y1="321.5" x2="461.4" y2="321.5" stroke="#222" stroke-width="1.1"/>
<line x1="456" y1="308.5" x2="463" y2="308.5" stroke="#222" stroke-width="1.1"/>
<rect x="470" y="321" width="3.6" height="3.6" fill="#135393"/>
<rect x="467.2" y="336.8" width="3.6" height="3.6" fill="#135393"/>
<rect x="473.4" y="339.4" width="3.6" height="3.6" fill="#135393"/>
<rect x="470" y="353.2" width="3.6" height="3.6" fill="#135393"/>
<rect x="470" y="368.5" width="3.6" height="3.6" fill="#135393"/>
<rect x="470.2" y="342.2" width="3.6" height="3.6" fill="#135393"/>
<rect x="467.7" y="339.7" width="3.6" height="3.6" fill="#135393"/>
<rect x="472.7" y="336.7" width="3.6" height="3.6" fill="#135393"/>
<line x1="470.5" y1="331.5" x2="470.5" y2="359.5" stroke="#222" stroke-width="1"/>
<line x1="468.6" y1="331.5" x2="472.4" y2="331.5" stroke="#222" stroke-width="1.1"/>
<line x1="468.6" y1="359.5" x2="472.4" y2="359.5" stroke="#222" stroke-width="1.1"/>
<line x1="467" y1="341.5" x2="474" y2="341.5" stroke="#222" stroke-width="1.1"/>
<rect x="476.1" y="388" width="3.6" height="3.6" fill="#0d6b52"/>
<rect x="483.6" y="388" width="3.6" height="3.6" fill="#0d6b52"/>
<rect x="480.4" y="390.2" width="3.6" height="3.6" fill="#0d6b52"/>
<rect x="478" y="392.6" width="3.6" height="3.6" fill="#0d6b52"/>
<rect x="478.9" y="395.2" width="3.6" height="3.6" fill="#0d6b52"/>
<rect x="482.2" y="391.2" width="3.6" height="3.6" fill="#0d6b52"/>
<line x1="482.5" y1="390.5" x2="482.5" y2="396.5" stroke="#222" stroke-width="1"/>
<line x1="480.6" y1="390.5" x2="484.4" y2="390.5" stroke="#222" stroke-width="1.1"/>
<line x1="480.6" y1="396.5" x2="484.4" y2="396.5" stroke="#222" stroke-width="1.1"/>
<line x1="479" y1="393.5" x2="486" y2="393.5" stroke="#222" stroke-width="1.1"/>
<rect x="489.7" y="340.7" width="3.6" height="3.6" fill="#e0103a"/>
<rect x="495" y="341.2" width="3.6" height="3.6" fill="#e0103a"/>
<rect x="490.2" y="346" width="3.6" height="3.6" fill="#e0103a"/>
<rect x="494.2" y="347.6" width="3.6" height="3.6" fill="#e0103a"/>
<rect x="492.7" y="349.2" width="3.6" height="3.6" fill="#e0103a"/>
<rect x="492.7" y="368.5" width="3.6" height="3.6" fill="#e0103a"/>
<line x1="493.5" y1="341.5" x2="493.5" y2="359.5" stroke="#222" stroke-width="1"/>
<line x1="491.6" y1="341.5" x2="495.4" y2="341.5" stroke="#222" stroke-width="1.1"/>
<line x1="491.6" y1="359.5" x2="495.4" y2="359.5" stroke="#222" stroke-width="1.1"/>
<line x1="490" y1="347.5" x2="497" y2="347.5" stroke="#222" stroke-width="1.1"/>
<rect x="501.7" y="331.2" width="3.6" height="3.6" fill="#581b7e"/>
<rect x="506.6" y="330.2" width="3.6" height="3.6" fill="#581b7e"/>
<rect x="502.2" y="346.2" width="3.6" height="3.6" fill="#581b7e"/>
<rect x="506.2" y="347.2" width="3.6" height="3.6" fill="#581b7e"/>
<rect x="502.2" y="350.5" width="3.6" height="3.6" fill="#581b7e"/>
<rect x="503.7" y="354.2" width="3.6" height="3.6" fill="#581b7e"/>
<rect x="503.7" y="374.2" width="3.6" height="3.6" fill="#581b7e"/>
<line x1="505.5" y1="333.5" x2="505.5" y2="362.5" stroke="#222" stroke-width="1"/>
<line x1="503.6" y1="333.5" x2="507.4" y2="333.5" stroke="#222" stroke-width="1.1"/>
<line x1="503.6" y1="362.5" x2="507.4" y2="362.5" stroke="#222" stroke-width="1.1"/>
<line x1="502" y1="348.5" x2="509" y2="348.5" stroke="#222" stroke-width="1.1"/>
<line x1="426" y1="251.5" x2="461.3" y2="251.5" stroke="#2a2a2a" stroke-width="1.1"/>
<line x1="426" y1="249.9" x2="426" y2="253.1" stroke="#2a2a2a" stroke-width="1.3"/>
<line x1="461.3" y1="249.9" x2="461.3" y2="253.1" stroke="#2a2a2a" stroke-width="1.3"/>
<text x="443.65" y="249.9" font-size="7" stroke="#333" stroke-width="0.08" text-anchor="middle" fill="#333">ns</text>
<line x1="426" y1="261.5" x2="450.2" y2="261.5" stroke="#2a2a2a" stroke-width="1.1"/>
<line x1="426" y1="259.9" x2="426" y2="263.1" stroke="#2a2a2a" stroke-width="1.3"/>
<line x1="450.2" y1="259.9" x2="450.2" y2="263.1" stroke="#2a2a2a" stroke-width="1.3"/>
<circle cx="435.1" cy="258.2" r="1.0" fill="#333"/>
<circle cx="438.1" cy="258.2" r="1.0" fill="#333"/>
<circle cx="441.1" cy="258.2" r="1.0" fill="#333"/>
<line x1="426" y1="271.5" x2="438.3" y2="271.5" stroke="#2a2a2a" stroke-width="1.1"/>
<line x1="426" y1="269.9" x2="426" y2="273.1" stroke="#2a2a2a" stroke-width="1.3"/>
<line x1="438.3" y1="269.9" x2="438.3" y2="273.1" stroke="#2a2a2a" stroke-width="1.3"/>
<circle cx="429.15" cy="268.2" r="1.0" fill="#333"/>
<circle cx="432.15" cy="268.2" r="1.0" fill="#333"/>
<circle cx="435.15" cy="268.2" r="1.0" fill="#333"/>
<line x1="438.3" y1="278.5" x2="450.2" y2="278.5" stroke="#2a2a2a" stroke-width="1.1"/>
<line x1="438.3" y1="276.9" x2="438.3" y2="280.1" stroke="#2a2a2a" stroke-width="1.3"/>
<line x1="450.2" y1="276.9" x2="450.2" y2="280.1" stroke="#2a2a2a" stroke-width="1.3"/>
<circle cx="441.25" cy="275.2" r="1.0" fill="#333"/>
<circle cx="444.25" cy="275.2" r="1.0" fill="#333"/>
<circle cx="447.25" cy="275.2" r="1.0" fill="#333"/>
<line x1="450.2" y1="271.5" x2="461.3" y2="271.5" stroke="#2a2a2a" stroke-width="1.1"/>
<line x1="450.2" y1="269.9" x2="450.2" y2="273.1" stroke="#2a2a2a" stroke-width="1.3"/>
<line x1="461.3" y1="269.9" x2="461.3" y2="273.1" stroke="#2a2a2a" stroke-width="1.3"/>
<circle cx="452.75" cy="268.2" r="1.0" fill="#333"/>
<circle cx="455.75" cy="268.2" r="1.0" fill="#333"/>
<circle cx="458.75" cy="268.2" r="1.0" fill="#333"/>
<line x1="471.8" y1="291.5" x2="506.9" y2="291.5" stroke="#2a2a2a" stroke-width="1.1"/>
<line x1="471.8" y1="289.9" x2="471.8" y2="293.1" stroke="#2a2a2a" stroke-width="1.3"/>
<line x1="506.9" y1="289.9" x2="506.9" y2="293.1" stroke="#2a2a2a" stroke-width="1.3"/>
<text x="489.35" y="289.9" font-size="7" stroke="#333" stroke-width="0.08" text-anchor="middle" fill="#333">ns</text>
<line x1="471.8" y1="301.5" x2="495" y2="301.5" stroke="#2a2a2a" stroke-width="1.1"/>
<line x1="471.8" y1="299.9" x2="471.8" y2="303.1" stroke="#2a2a2a" stroke-width="1.3"/>
<line x1="495" y1="299.9" x2="495" y2="303.1" stroke="#2a2a2a" stroke-width="1.3"/>
<text x="483.4" y="299.9" font-size="7" stroke="#333" stroke-width="0.08" text-anchor="middle" fill="#333">ns</text>
<line x1="471.8" y1="310.5" x2="484" y2="310.5" stroke="#2a2a2a" stroke-width="1.1"/>
<line x1="471.8" y1="308.9" x2="471.8" y2="312.1" stroke="#2a2a2a" stroke-width="1.3"/>
<line x1="484" y1="308.9" x2="484" y2="312.1" stroke="#2a2a2a" stroke-width="1.3"/>
<circle cx="474.9" cy="307.2" r="1.0" fill="#333"/>
<circle cx="477.9" cy="307.2" r="1.0" fill="#333"/>
<circle cx="480.9" cy="307.2" r="1.0" fill="#333"/>
<line x1="484" y1="318.5" x2="495" y2="318.5" stroke="#2a2a2a" stroke-width="1.1"/>
<line x1="484" y1="316.9" x2="484" y2="320.1" stroke="#2a2a2a" stroke-width="1.3"/>
<line x1="495" y1="316.9" x2="495" y2="320.1" stroke="#2a2a2a" stroke-width="1.3"/>
<circle cx="486.5" cy="315.2" r="1.0" fill="#333"/>
<circle cx="489.5" cy="315.2" r="1.0" fill="#333"/>
<circle cx="492.5" cy="315.2" r="1.0" fill="#333"/>
<line x1="495" y1="310.5" x2="506.9" y2="310.5" stroke="#2a2a2a" stroke-width="1.1"/>
<line x1="495" y1="308.9" x2="495" y2="312.1" stroke="#2a2a2a" stroke-width="1.3"/>
<line x1="506.9" y1="308.9" x2="506.9" y2="312.1" stroke="#2a2a2a" stroke-width="1.3"/>
<text x="500.95" y="308.9" font-size="7" stroke="#333" stroke-width="0.08" text-anchor="middle" fill="#333">ns</text>
<clipPath id="cTL"><rect x="22.4" y="245.6" width="86.2" height="78"/></clipPath>
<g clip-path="url(#cTL)">
<path d="M22.4,247.5 L23,272.8 C24.58,272.77 30.28,272.78 32.5,272.6 C34.72,272.42 35.25,272.17 36.3,271.7 C37.35,271.23 38.07,270.23 38.8,269.8 C39.53,269.37 39.87,269.6 40.7,269.1 C41.53,268.6 42.77,267.73 43.8,266.8 C44.83,265.87 46.02,264.72 46.9,263.5 C47.78,262.28 48.57,261.17 49.1,259.5 C49.63,257.83 49.77,254.85 50.1,253.5 C50.43,252.15 50.65,251.75 51.1,251.4 C51.55,251.05 52.23,250.92 52.8,251.4 C53.37,251.88 53.9,253.08 54.5,254.3 C55.1,255.52 55.88,256.87 56.4,258.7 C56.92,260.53 57.2,263.37 57.6,265.3 C58,267.23 58.28,269.1 58.8,270.3 C59.32,271.5 59.97,272.08 60.7,272.5 C61.43,272.92 55.22,272.75 63.2,272.8 C71.18,272.85 101.03,272.8 108.6,272.8 L108.6,273.4 L22.4,273.4 Z" fill="#e68c9a" style="mix-blend-mode:multiply"/>
<path d="M22.4,247.5 L23,272.8 C24.58,272.77 30.28,272.78 32.5,272.6 C34.72,272.42 35.25,272.17 36.3,271.7 C37.35,271.23 38.07,270.23 38.8,269.8 C39.53,269.37 39.87,269.6 40.7,269.1 C41.53,268.6 42.77,267.73 43.8,266.8 C44.83,265.87 46.02,264.72 46.9,263.5 C47.78,262.28 48.57,261.17 49.1,259.5 C49.63,257.83 49.77,254.85 50.1,253.5 C50.43,252.15 50.65,251.75 51.1,251.4 C51.55,251.05 52.23,250.92 52.8,251.4 C53.37,251.88 53.9,253.08 54.5,254.3 C55.1,255.52 55.88,256.87 56.4,258.7 C56.92,260.53 57.2,263.37 57.6,265.3 C58,267.23 58.28,269.1 58.8,270.3 C59.32,271.5 59.97,272.08 60.7,272.5 C61.43,272.92 55.22,272.75 63.2,272.8 C71.18,272.85 101.03,272.8 108.6,272.8" fill="none" stroke="#c8142f" stroke-width="1.4" stroke-linejoin="round" style="mix-blend-mode:multiply"/>
<path d="M22.4,286 C25.13,285.98 34.4,286.07 38.8,285.9 C43.2,285.73 45.67,285.25 48.8,285 C51.93,284.75 55.3,284.5 57.6,284.4 C59.9,284.3 61.37,284.43 62.6,284.4 C63.83,284.37 63.97,284.52 65,284.2 C66.03,283.88 67.55,283.23 68.8,282.5 C70.05,281.77 71.35,280.85 72.5,279.8 C73.65,278.75 74.87,277.53 75.7,276.2 C76.53,274.87 76.98,273.17 77.5,271.8 C78.02,270.43 78.38,269.15 78.8,268 C79.22,266.85 79.48,265.57 80,264.9 C80.52,264.23 81.3,264 81.9,264 C82.5,264 83.18,264.23 83.6,264.9 C84.02,265.57 84.05,266.75 84.4,268 C84.75,269.25 85.22,270.93 85.7,272.4 C86.18,273.87 86.78,275.23 87.3,276.8 C87.82,278.37 88.23,280.43 88.8,281.8 C89.37,283.17 89.87,284.28 90.7,285 C91.53,285.72 90.82,285.92 93.8,286.1 C96.78,286.28 106.13,286.1 108.6,286.1 L108.6,286.6 L22.4,286.6 Z" fill="#88a6c2" style="mix-blend-mode:multiply"/>
<path d="M22.4,286 C25.13,285.98 34.4,286.07 38.8,285.9 C43.2,285.73 45.67,285.25 48.8,285 C51.93,284.75 55.3,284.5 57.6,284.4 C59.9,284.3 61.37,284.43 62.6,284.4 C63.83,284.37 63.97,284.52 65,284.2 C66.03,283.88 67.55,283.23 68.8,282.5 C70.05,281.77 71.35,280.85 72.5,279.8 C73.65,278.75 74.87,277.53 75.7,276.2 C76.53,274.87 76.98,273.17 77.5,271.8 C78.02,270.43 78.38,269.15 78.8,268 C79.22,266.85 79.48,265.57 80,264.9 C80.52,264.23 81.3,264 81.9,264 C82.5,264 83.18,264.23 83.6,264.9 C84.02,265.57 84.05,266.75 84.4,268 C84.75,269.25 85.22,270.93 85.7,272.4 C86.18,273.87 86.78,275.23 87.3,276.8 C87.82,278.37 88.23,280.43 88.8,281.8 C89.37,283.17 89.87,284.28 90.7,285 C91.53,285.72 90.82,285.92 93.8,286.1 C96.78,286.28 106.13,286.1 108.6,286.1" fill="none" stroke="#134e8c" stroke-width="1.4" stroke-linejoin="round" style="mix-blend-mode:multiply"/>
<path d="M22.4,298.3 C24.08,298.18 29.6,297.82 32.5,297.6 C35.4,297.38 37.85,297.47 39.8,297 C41.75,296.53 43.02,295.88 44.2,294.8 C45.38,293.72 46.03,292.23 46.9,290.5 C47.77,288.77 48.58,286.27 49.4,284.4 C50.22,282.53 51.17,280.4 51.8,279.3 C52.43,278.2 52.82,277.9 53.2,277.8 C53.58,277.7 53.72,278.65 54.1,278.7 C54.48,278.75 55.02,278.13 55.5,278.1 C55.98,278.07 56.55,278.08 57,278.5 C57.45,278.92 57.78,279.35 58.2,280.6 C58.62,281.85 59,284.55 59.5,286 C60,287.45 60.45,288.28 61.2,289.3 C61.95,290.32 62.95,291.43 64,292.1 C65.05,292.77 66.33,292.88 67.5,293.3 C68.67,293.72 69.68,294.43 71,294.6 C72.32,294.77 74.3,294.68 75.4,294.3 C76.5,293.92 76.97,292.63 77.6,292.3 C78.23,291.97 78.47,292.25 79.2,292.3 C79.93,292.35 80.98,292.18 82,292.6 C83.02,293.02 84.2,294 85.3,294.8 C86.4,295.6 87.5,296.7 88.6,297.4 C89.7,298.1 88.57,298.72 91.9,299 C95.23,299.28 105.82,299.08 108.6,299.1 L108.6,299.5 L22.4,299.5 Z" fill="#a0dba6" style="mix-blend-mode:multiply"/>
<path d="M22.4,298.3 C24.08,298.18 29.6,297.82 32.5,297.6 C35.4,297.38 37.85,297.47 39.8,297 C41.75,296.53 43.02,295.88 44.2,294.8 C45.38,293.72 46.03,292.23 46.9,290.5 C47.77,288.77 48.58,286.27 49.4,284.4 C50.22,282.53 51.17,280.4 51.8,279.3 C52.43,278.2 52.82,277.9 53.2,277.8 C53.58,277.7 53.72,278.65 54.1,278.7 C54.48,278.75 55.02,278.13 55.5,278.1 C55.98,278.07 56.55,278.08 57,278.5 C57.45,278.92 57.78,279.35 58.2,280.6 C58.62,281.85 59,284.55 59.5,286 C60,287.45 60.45,288.28 61.2,289.3 C61.95,290.32 62.95,291.43 64,292.1 C65.05,292.77 66.33,292.88 67.5,293.3 C68.67,293.72 69.68,294.43 71,294.6 C72.32,294.77 74.3,294.68 75.4,294.3 C76.5,293.92 76.97,292.63 77.6,292.3 C78.23,291.97 78.47,292.25 79.2,292.3 C79.93,292.35 80.98,292.18 82,292.6 C83.02,293.02 84.2,294 85.3,294.8 C86.4,295.6 87.5,296.7 88.6,297.4 C89.7,298.1 88.57,298.72 91.9,299 C95.23,299.28 105.82,299.08 108.6,299.1" fill="none" stroke="#2db34a" stroke-width="1.4" stroke-linejoin="round" style="mix-blend-mode:multiply"/>
<path d="M22.4,311.3 C25.3,311.38 35.62,311.98 39.8,311.8 C43.98,311.62 45.13,310.7 47.5,310.2 C49.87,309.7 52.45,308.88 54,308.8 C55.55,308.72 55.5,309.5 56.8,309.7 C58.1,309.9 60.35,310.15 61.8,310 C63.25,309.85 63.97,309.32 65.5,308.8 C67.03,308.28 69.53,307.77 71,306.9 C72.47,306.03 73.2,305.15 74.3,303.6 C75.4,302.05 76.68,299.62 77.6,297.6 C78.52,295.58 79.25,292.7 79.8,291.5 C80.35,290.3 80.45,290.45 80.9,290.4 C81.35,290.35 81.87,291.13 82.5,291.2 C83.13,291.27 84.15,290.75 84.7,290.8 C85.25,290.85 85.43,290.37 85.8,291.5 C86.17,292.63 86.35,295.58 86.9,297.6 C87.45,299.62 88.27,301.58 89.1,303.6 C89.93,305.62 91.07,308.37 91.9,309.7 C92.73,311.03 91.32,311.28 94.1,311.6 C96.88,311.92 106.18,311.6 108.6,311.6 L108.6,312.2 L22.4,312.2 Z" fill="#b598c9" style="mix-blend-mode:multiply"/>
<path d="M22.4,311.3 C25.3,311.38 35.62,311.98 39.8,311.8 C43.98,311.62 45.13,310.7 47.5,310.2 C49.87,309.7 52.45,308.88 54,308.8 C55.55,308.72 55.5,309.5 56.8,309.7 C58.1,309.9 60.35,310.15 61.8,310 C63.25,309.85 63.97,309.32 65.5,308.8 C67.03,308.28 69.53,307.77 71,306.9 C72.47,306.03 73.2,305.15 74.3,303.6 C75.4,302.05 76.68,299.62 77.6,297.6 C78.52,295.58 79.25,292.7 79.8,291.5 C80.35,290.3 80.45,290.45 80.9,290.4 C81.35,290.35 81.87,291.13 82.5,291.2 C83.13,291.27 84.15,290.75 84.7,290.8 C85.25,290.85 85.43,290.37 85.8,291.5 C86.17,292.63 86.35,295.58 86.9,297.6 C87.45,299.62 88.27,301.58 89.1,303.6 C89.93,305.62 91.07,308.37 91.9,309.7 C92.73,311.03 91.32,311.28 94.1,311.6 C96.88,311.92 106.18,311.6 108.6,311.6" fill="none" stroke="#5c1f82" stroke-width="1.4" stroke-linejoin="round" style="mix-blend-mode:multiply"/>
<path d="M22.4,323.6 C26.22,323.57 40.57,323.62 45.3,323.4 C50.03,323.18 48.97,322.57 50.8,322.3 C52.63,322.03 54.65,321.75 56.3,321.8 C57.95,321.85 59.5,322.57 60.7,322.6 C61.9,322.63 62.53,322.43 63.5,322 C64.47,321.57 65.25,320.77 66.5,320 C67.75,319.23 69.7,318.57 71,317.4 C72.3,316.23 73.38,314.65 74.3,313 C75.22,311.35 75.77,309.15 76.5,307.5 C77.23,305.85 78.07,304.12 78.7,303.1 C79.33,302.08 79.75,301.68 80.3,301.4 C80.85,301.12 81.45,301.12 82,301.4 C82.55,301.68 83.05,302.08 83.6,303.1 C84.15,304.12 84.65,305.48 85.3,307.5 C85.95,309.52 86.77,312.82 87.5,315.2 C88.23,317.58 89.15,320.43 89.7,321.8 C90.25,323.17 87.65,323.1 90.8,323.4 C93.95,323.7 105.63,323.57 108.6,323.6 L108.6,324.2 L22.4,324.2 Z" fill="#fac892" style="mix-blend-mode:multiply"/>
<path d="M22.4,323.6 C26.22,323.57 40.57,323.62 45.3,323.4 C50.03,323.18 48.97,322.57 50.8,322.3 C52.63,322.03 54.65,321.75 56.3,321.8 C57.95,321.85 59.5,322.57 60.7,322.6 C61.9,322.63 62.53,322.43 63.5,322 C64.47,321.57 65.25,320.77 66.5,320 C67.75,319.23 69.7,318.57 71,317.4 C72.3,316.23 73.38,314.65 74.3,313 C75.22,311.35 75.77,309.15 76.5,307.5 C77.23,305.85 78.07,304.12 78.7,303.1 C79.33,302.08 79.75,301.68 80.3,301.4 C80.85,301.12 81.45,301.12 82,301.4 C82.55,301.68 83.05,302.08 83.6,303.1 C84.15,304.12 84.65,305.48 85.3,307.5 C85.95,309.52 86.77,312.82 87.5,315.2 C88.23,317.58 89.15,320.43 89.7,321.8 C90.25,323.17 87.65,323.1 90.8,323.4 C93.95,323.7 105.63,323.57 108.6,323.6" fill="none" stroke="#f28c1a" stroke-width="1.4" stroke-linejoin="round" style="mix-blend-mode:multiply"/>
</g>
<rect x="22.4" y="245.6" width="86.2" height="78" fill="none" stroke="#151515" stroke-width="1.05"/>
<clipPath id="cTR"><rect x="112.6" y="244.7" width="86" height="78.3"/></clipPath>
<g clip-path="url(#cTR)">
<path d="M112.6,248 L113.2,272.4 C114.75,272.4 118.87,272.53 122.5,272.4 C126.13,272.27 132.28,271.9 135,271.6 C137.72,271.3 137.75,271.08 138.8,270.6 C139.85,270.12 140.47,269.43 141.3,268.7 C142.13,267.97 143.07,266.93 143.8,266.2 C144.53,265.47 145.17,265.25 145.7,264.3 C146.23,263.35 146.58,261.55 147,260.5 C147.42,259.45 147.73,258.83 148.2,258 C148.67,257.17 149.27,256.53 149.8,255.5 C150.33,254.47 150.93,252 151.4,251.8 C151.87,251.6 152.18,252.85 152.6,254.3 C153.02,255.75 153.48,258.42 153.9,260.5 C154.32,262.58 154.58,265.08 155.1,266.8 C155.62,268.52 156.18,269.92 157,270.8 C157.82,271.68 158.87,271.83 160,272.1 C161.13,272.37 157.37,272.32 163.8,272.4 C170.23,272.48 192.8,272.57 198.6,272.6 L198.6,273 L112.6,273 Z" fill="#e68c9a" style="mix-blend-mode:multiply"/>
<path d="M112.6,248 L113.2,272.4 C114.75,272.4 118.87,272.53 122.5,272.4 C126.13,272.27 132.28,271.9 135,271.6 C137.72,271.3 137.75,271.08 138.8,270.6 C139.85,270.12 140.47,269.43 141.3,268.7 C142.13,267.97 143.07,266.93 143.8,266.2 C144.53,265.47 145.17,265.25 145.7,264.3 C146.23,263.35 146.58,261.55 147,260.5 C147.42,259.45 147.73,258.83 148.2,258 C148.67,257.17 149.27,256.53 149.8,255.5 C150.33,254.47 150.93,252 151.4,251.8 C151.87,251.6 152.18,252.85 152.6,254.3 C153.02,255.75 153.48,258.42 153.9,260.5 C154.32,262.58 154.58,265.08 155.1,266.8 C155.62,268.52 156.18,269.92 157,270.8 C157.82,271.68 158.87,271.83 160,272.1 C161.13,272.37 157.37,272.32 163.8,272.4 C170.23,272.48 192.8,272.57 198.6,272.6" fill="none" stroke="#c8142f" stroke-width="1.4" stroke-linejoin="round" style="mix-blend-mode:multiply"/>
<path d="M112.6,285.4 C117.38,285.4 135.68,285.57 141.3,285.4 C146.92,285.23 144.62,284.78 146.3,284.4 C147.98,284.02 149.95,283.48 151.4,283.1 C152.85,282.72 153.77,282.62 155,282.1 C156.23,281.58 157.75,280.88 158.8,280 C159.85,279.12 160.47,278.07 161.3,276.8 C162.13,275.53 163.07,273.75 163.8,272.4 C164.53,271.05 165.08,269.73 165.7,268.7 C166.32,267.67 166.78,266.72 167.5,266.2 C168.22,265.68 169.27,265.6 170,265.6 C170.73,265.6 171.37,265.58 171.9,266.2 C172.43,266.82 172.67,267.95 173.2,269.3 C173.73,270.65 174.37,272.52 175.1,274.3 C175.83,276.08 176.77,278.43 177.6,280 C178.43,281.57 179.27,282.82 180.1,283.7 C180.93,284.58 179.52,285.02 182.6,285.3 C185.68,285.58 195.93,285.38 198.6,285.4 L198.6,286 L112.6,286 Z" fill="#88a6c2" style="mix-blend-mode:multiply"/>
<path d="M112.6,285.4 C117.38,285.4 135.68,285.57 141.3,285.4 C146.92,285.23 144.62,284.78 146.3,284.4 C147.98,284.02 149.95,283.48 151.4,283.1 C152.85,282.72 153.77,282.62 155,282.1 C156.23,281.58 157.75,280.88 158.8,280 C159.85,279.12 160.47,278.07 161.3,276.8 C162.13,275.53 163.07,273.75 163.8,272.4 C164.53,271.05 165.08,269.73 165.7,268.7 C166.32,267.67 166.78,266.72 167.5,266.2 C168.22,265.68 169.27,265.6 170,265.6 C170.73,265.6 171.37,265.58 171.9,266.2 C172.43,266.82 172.67,267.95 173.2,269.3 C173.73,270.65 174.37,272.52 175.1,274.3 C175.83,276.08 176.77,278.43 177.6,280 C178.43,281.57 179.27,282.82 180.1,283.7 C180.93,284.58 179.52,285.02 182.6,285.3 C185.68,285.58 195.93,285.38 198.6,285.4" fill="none" stroke="#134e8c" stroke-width="1.4" stroke-linejoin="round" style="mix-blend-mode:multiply"/>
<path d="M112.6,297.9 C115.3,297.85 124.83,297.83 128.8,297.6 C132.77,297.37 134.68,296.87 136.4,296.5 C138.12,296.13 138.18,295.77 139.1,295.4 C140.02,295.03 141.07,295.03 141.9,294.3 C142.73,293.57 143.37,292.1 144.1,291 C144.83,289.9 145.6,288.9 146.3,287.7 C147,286.5 147.67,285.17 148.3,283.8 C148.93,282.43 149.57,280.53 150.1,279.5 C150.63,278.47 151.1,277.95 151.5,277.6 C151.9,277.25 152.15,276.92 152.5,277.4 C152.85,277.88 153.12,279.37 153.6,280.5 C154.08,281.63 154.75,283.22 155.4,284.2 C156.05,285.18 156.83,285.47 157.5,286.4 C158.17,287.33 158.67,288.6 159.4,289.8 C160.13,291 160.97,292.63 161.9,293.6 C162.83,294.57 163.65,295.15 165,295.6 C166.35,296.05 168.53,295.98 170,296.3 C171.47,296.62 172.75,297.22 173.8,297.5 C174.85,297.78 172.17,297.92 176.3,298 C180.43,298.08 194.88,298 198.6,298 L198.6,298.6 L112.6,298.6 Z" fill="#a0dba6" style="mix-blend-mode:multiply"/>
<path d="M112.6,297.9 C115.3,297.85 124.83,297.83 128.8,297.6 C132.77,297.37 134.68,296.87 136.4,296.5 C138.12,296.13 138.18,295.77 139.1,295.4 C140.02,295.03 141.07,295.03 141.9,294.3 C142.73,293.57 143.37,292.1 144.1,291 C144.83,289.9 145.6,288.9 146.3,287.7 C147,286.5 147.67,285.17 148.3,283.8 C148.93,282.43 149.57,280.53 150.1,279.5 C150.63,278.47 151.1,277.95 151.5,277.6 C151.9,277.25 152.15,276.92 152.5,277.4 C152.85,277.88 153.12,279.37 153.6,280.5 C154.08,281.63 154.75,283.22 155.4,284.2 C156.05,285.18 156.83,285.47 157.5,286.4 C158.17,287.33 158.67,288.6 159.4,289.8 C160.13,291 160.97,292.63 161.9,293.6 C162.83,294.57 163.65,295.15 165,295.6 C166.35,296.05 168.53,295.98 170,296.3 C171.47,296.62 172.75,297.22 173.8,297.5 C174.85,297.78 172.17,297.92 176.3,298 C180.43,298.08 194.88,298 198.6,298" fill="none" stroke="#2db34a" stroke-width="1.4" stroke-linejoin="round" style="mix-blend-mode:multiply"/>
<path d="M112.6,310.9 C116.93,310.88 133.17,310.97 138.6,310.8 C144.03,310.63 143.37,310.27 145.2,309.9 C147.03,309.53 148.25,309.1 149.6,308.6 C150.95,308.1 152.13,307.63 153.3,306.9 C154.47,306.17 155.68,305.2 156.6,304.2 C157.52,303.2 158.17,301.92 158.8,300.9 C159.43,299.88 159.77,299.2 160.4,298.1 C161.03,297 161.87,295.03 162.6,294.3 C163.33,293.57 164.07,293.98 164.8,293.7 C165.53,293.42 166.35,293.05 167,292.6 C167.65,292.15 168.15,291.48 168.7,291 C169.25,290.52 169.75,289.85 170.3,289.7 C170.85,289.55 171.53,289.7 172,290.1 C172.47,290.5 172.73,290.85 173.1,292.1 C173.47,293.35 173.65,295.77 174.2,297.6 C174.75,299.43 175.58,301.45 176.4,303.1 C177.22,304.75 178.18,306.32 179.1,307.5 C180.02,308.68 180.88,309.62 181.9,310.2 C182.92,310.78 182.42,310.87 185.2,311 C187.98,311.13 196.37,311 198.6,311 L198.6,311.5 L112.6,311.5 Z" fill="#b598c9" style="mix-blend-mode:multiply"/>
<path d="M112.6,310.9 C116.93,310.88 133.17,310.97 138.6,310.8 C144.03,310.63 143.37,310.27 145.2,309.9 C147.03,309.53 148.25,309.1 149.6,308.6 C150.95,308.1 152.13,307.63 153.3,306.9 C154.47,306.17 155.68,305.2 156.6,304.2 C157.52,303.2 158.17,301.92 158.8,300.9 C159.43,299.88 159.77,299.2 160.4,298.1 C161.03,297 161.87,295.03 162.6,294.3 C163.33,293.57 164.07,293.98 164.8,293.7 C165.53,293.42 166.35,293.05 167,292.6 C167.65,292.15 168.15,291.48 168.7,291 C169.25,290.52 169.75,289.85 170.3,289.7 C170.85,289.55 171.53,289.7 172,290.1 C172.47,290.5 172.73,290.85 173.1,292.1 C173.47,293.35 173.65,295.77 174.2,297.6 C174.75,299.43 175.58,301.45 176.4,303.1 C177.22,304.75 178.18,306.32 179.1,307.5 C180.02,308.68 180.88,309.62 181.9,310.2 C182.92,310.78 182.42,310.87 185.2,311 C187.98,311.13 196.37,311 198.6,311" fill="none" stroke="#5c1f82" stroke-width="1.4" stroke-linejoin="round" style="mix-blend-mode:multiply"/>
<path d="M112.6,323 C118.03,322.98 139.03,323.1 145.2,322.9 C151.37,322.7 148.1,322.48 149.6,321.8 C151.1,321.12 152.7,319.9 154.2,318.8 C155.7,317.7 157.38,316.35 158.6,315.2 C159.82,314.05 160.73,313.1 161.5,311.9 C162.27,310.7 162.55,309.28 163.2,308 C163.85,306.72 164.58,305.3 165.4,304.2 C166.22,303.1 167.37,301.5 168.1,301.4 C168.83,301.3 169.15,303.42 169.8,303.6 C170.45,303.78 171.45,302.22 172,302.5 C172.55,302.78 172.73,303.73 173.1,305.3 C173.47,306.87 173.65,309.8 174.2,311.9 C174.75,314 175.77,316.35 176.4,317.9 C177.03,319.45 177.55,320.37 178,321.2 C178.45,322.03 175.67,322.6 179.1,322.9 C182.53,323.2 195.35,322.98 198.6,323 L198.6,323.6 L112.6,323.6 Z" fill="#fac892" style="mix-blend-mode:multiply"/>
<path d="M112.6,323 C118.03,322.98 139.03,323.1 145.2,322.9 C151.37,322.7 148.1,322.48 149.6,321.8 C151.1,321.12 152.7,319.9 154.2,318.8 C155.7,317.7 157.38,316.35 158.6,315.2 C159.82,314.05 160.73,313.1 161.5,311.9 C162.27,310.7 162.55,309.28 163.2,308 C163.85,306.72 164.58,305.3 165.4,304.2 C166.22,303.1 167.37,301.5 168.1,301.4 C168.83,301.3 169.15,303.42 169.8,303.6 C170.45,303.78 171.45,302.22 172,302.5 C172.55,302.78 172.73,303.73 173.1,305.3 C173.47,306.87 173.65,309.8 174.2,311.9 C174.75,314 175.77,316.35 176.4,317.9 C177.03,319.45 177.55,320.37 178,321.2 C178.45,322.03 175.67,322.6 179.1,322.9 C182.53,323.2 195.35,322.98 198.6,323" fill="none" stroke="#f28c1a" stroke-width="1.4" stroke-linejoin="round" style="mix-blend-mode:multiply"/>
</g>
<rect x="112.6" y="244.7" width="86" height="78.3" fill="none" stroke="#151515" stroke-width="1.05"/>
<clipPath id="cBL"><rect x="22.4" y="350.5" width="86" height="78.1"/></clipPath>
<g clip-path="url(#cBL)">
<path d="M22.4,352 L23.1,377.5 C25.33,377.45 33.72,377.43 36.5,377.2 C39.28,376.97 38.15,376.4 39.8,376.1 C41.45,375.8 44.75,375.85 46.4,375.4 C48.05,374.95 48.6,373.83 49.7,373.4 C50.8,372.97 52.08,373.35 53,372.8 C53.92,372.25 54.38,370.83 55.2,370.1 C56.02,369.37 57.05,368.98 57.9,368.4 C58.75,367.82 59.5,367.15 60.3,366.6 C61.1,366.05 61.93,365.8 62.7,365.1 C63.47,364.4 64.35,363.32 64.9,362.4 C65.45,361.48 65.53,360.33 66,359.6 C66.47,358.87 67.23,358.42 67.7,358 C68.17,357.58 68.43,356.73 68.8,357.1 C69.17,357.47 69.53,358.68 69.9,360.2 C70.27,361.72 70.55,364.28 71,366.2 C71.45,368.12 71.97,370.23 72.6,371.7 C73.23,373.17 73.97,374.13 74.8,375 C75.63,375.87 76.4,376.45 77.6,376.9 C78.8,377.35 76.87,377.55 82,377.7 C87.13,377.85 104,377.78 108.4,377.8 L108.4,378.2 L22.4,378.2 Z" fill="#e68c9a" style="mix-blend-mode:multiply"/>
<path d="M22.4,352 L23.1,377.5 C25.33,377.45 33.72,377.43 36.5,377.2 C39.28,376.97 38.15,376.4 39.8,376.1 C41.45,375.8 44.75,375.85 46.4,375.4 C48.05,374.95 48.6,373.83 49.7,373.4 C50.8,372.97 52.08,373.35 53,372.8 C53.92,372.25 54.38,370.83 55.2,370.1 C56.02,369.37 57.05,368.98 57.9,368.4 C58.75,367.82 59.5,367.15 60.3,366.6 C61.1,366.05 61.93,365.8 62.7,365.1 C63.47,364.4 64.35,363.32 64.9,362.4 C65.45,361.48 65.53,360.33 66,359.6 C66.47,358.87 67.23,358.42 67.7,358 C68.17,357.58 68.43,356.73 68.8,357.1 C69.17,357.47 69.53,358.68 69.9,360.2 C70.27,361.72 70.55,364.28 71,366.2 C71.45,368.12 71.97,370.23 72.6,371.7 C73.23,373.17 73.97,374.13 74.8,375 C75.63,375.87 76.4,376.45 77.6,376.9 C78.8,377.35 76.87,377.55 82,377.7 C87.13,377.85 104,377.78 108.4,377.8" fill="none" stroke="#c8142f" stroke-width="1.4" stroke-linejoin="round" style="mix-blend-mode:multiply"/>
<path d="M22.4,390.6 C24.75,390.57 32.32,390.62 36.5,390.4 C40.68,390.18 44.93,389.62 47.5,389.3 C50.07,388.98 50.62,388.95 51.9,388.5 C53.18,388.05 54.1,386.97 55.2,386.6 C56.3,386.23 57.62,386.65 58.5,386.3 C59.38,385.95 59.83,385.18 60.5,384.5 C61.17,383.82 61.62,383.05 62.5,382.2 C63.38,381.35 64.75,380.37 65.8,379.4 C66.85,378.43 67.75,377.68 68.8,376.4 C69.85,375.12 71.18,372.97 72.1,371.7 C73.02,370.43 73.67,369.17 74.3,368.8 C74.93,368.43 75.35,369.38 75.9,369.5 C76.45,369.62 77.05,369.4 77.6,369.5 C78.15,369.6 78.57,369.73 79.2,370.1 C79.83,370.47 80.75,370.42 81.4,371.7 C82.05,372.98 82.45,376.05 83.1,377.8 C83.75,379.55 84.48,380.55 85.3,382.2 C86.12,383.85 87.08,386.42 88,387.7 C88.92,388.98 89.42,389.4 90.8,389.9 C92.18,390.4 93.37,390.52 96.3,390.7 C99.23,390.88 106.38,390.95 108.4,391 L108.4,391.4 L22.4,391.4 Z" fill="#88a6c2" style="mix-blend-mode:multiply"/>
<path d="M22.4,390.6 C24.75,390.57 32.32,390.62 36.5,390.4 C40.68,390.18 44.93,389.62 47.5,389.3 C50.07,388.98 50.62,388.95 51.9,388.5 C53.18,388.05 54.1,386.97 55.2,386.6 C56.3,386.23 57.62,386.65 58.5,386.3 C59.38,385.95 59.83,385.18 60.5,384.5 C61.17,383.82 61.62,383.05 62.5,382.2 C63.38,381.35 64.75,380.37 65.8,379.4 C66.85,378.43 67.75,377.68 68.8,376.4 C69.85,375.12 71.18,372.97 72.1,371.7 C73.02,370.43 73.67,369.17 74.3,368.8 C74.93,368.43 75.35,369.38 75.9,369.5 C76.45,369.62 77.05,369.4 77.6,369.5 C78.15,369.6 78.57,369.73 79.2,370.1 C79.83,370.47 80.75,370.42 81.4,371.7 C82.05,372.98 82.45,376.05 83.1,377.8 C83.75,379.55 84.48,380.55 85.3,382.2 C86.12,383.85 87.08,386.42 88,387.7 C88.92,388.98 89.42,389.4 90.8,389.9 C92.18,390.4 93.37,390.52 96.3,390.7 C99.23,390.88 106.38,390.95 108.4,391" fill="none" stroke="#134e8c" stroke-width="1.4" stroke-linejoin="round" style="mix-blend-mode:multiply"/>
<path d="M22.4,402.8 C24.2,402.77 30.3,402.82 33.2,402.6 C36.1,402.38 37.78,402.05 39.8,401.5 C41.82,400.95 43.47,400.03 45.3,399.3 C47.13,398.57 49.33,397.83 50.8,397.1 C52.27,396.37 53,395.73 54.1,394.9 C55.2,394.07 56.42,392.88 57.4,392.1 C58.38,391.32 59.02,390.88 60,390.2 C60.98,389.52 62.33,388.83 63.3,388 C64.27,387.17 65.07,385.77 65.8,385.2 C66.53,384.63 67.08,384.33 67.7,384.6 C68.32,384.87 68.87,386.03 69.5,386.8 C70.13,387.57 70.83,388.5 71.5,389.2 C72.17,389.9 72.67,390.37 73.5,391 C74.33,391.63 75.5,392.37 76.5,393 C77.5,393.63 78.58,394.27 79.5,394.8 C80.42,395.33 81.32,395.63 82,396.2 C82.68,396.77 82.87,397.35 83.6,398.2 C84.33,399.05 85.38,400.53 86.4,401.3 C87.42,402.07 86.03,402.43 89.7,402.8 C93.37,403.17 105.28,403.38 108.4,403.5 L108.4,404 L22.4,404 Z" fill="#a0dba6" style="mix-blend-mode:multiply"/>
<path d="M22.4,402.8 C24.2,402.77 30.3,402.82 33.2,402.6 C36.1,402.38 37.78,402.05 39.8,401.5 C41.82,400.95 43.47,400.03 45.3,399.3 C47.13,398.57 49.33,397.83 50.8,397.1 C52.27,396.37 53,395.73 54.1,394.9 C55.2,394.07 56.42,392.88 57.4,392.1 C58.38,391.32 59.02,390.88 60,390.2 C60.98,389.52 62.33,388.83 63.3,388 C64.27,387.17 65.07,385.77 65.8,385.2 C66.53,384.63 67.08,384.33 67.7,384.6 C68.32,384.87 68.87,386.03 69.5,386.8 C70.13,387.57 70.83,388.5 71.5,389.2 C72.17,389.9 72.67,390.37 73.5,391 C74.33,391.63 75.5,392.37 76.5,393 C77.5,393.63 78.58,394.27 79.5,394.8 C80.42,395.33 81.32,395.63 82,396.2 C82.68,396.77 82.87,397.35 83.6,398.2 C84.33,399.05 85.38,400.53 86.4,401.3 C87.42,402.07 86.03,402.43 89.7,402.8 C93.37,403.17 105.28,403.38 108.4,403.5" fill="none" stroke="#2db34a" stroke-width="1.4" stroke-linejoin="round" style="mix-blend-mode:multiply"/>
<path d="M22.4,416.3 C24.75,416.27 32.32,416.28 36.5,416.1 C40.68,415.92 44.93,415.47 47.5,415.2 C50.07,414.93 50.62,414.98 51.9,414.5 C53.18,414.02 54.2,412.85 55.2,412.3 C56.2,411.75 57.02,411.62 57.9,411.2 C58.78,410.78 59.73,410.4 60.5,409.8 C61.27,409.2 61.7,408.35 62.5,407.6 C63.3,406.85 64.42,406.32 65.3,405.3 C66.18,404.28 67.03,402.83 67.8,401.5 C68.57,400.17 69.18,398.32 69.9,397.3 C70.62,396.28 71.37,395.53 72.1,395.4 C72.83,395.27 73.67,396.4 74.3,396.5 C74.93,396.6 75.35,395.82 75.9,396 C76.45,396.18 77.05,396.68 77.6,397.6 C78.15,398.52 78.57,400.3 79.2,401.5 C79.83,402.7 80.67,403.88 81.4,404.8 C82.13,405.72 82.87,405.9 83.6,407 C84.33,408.1 84.97,410.22 85.8,411.4 C86.63,412.58 87.58,413.37 88.6,414.1 C89.62,414.83 90.62,415.43 91.9,415.8 C93.18,416.17 93.55,416.18 96.3,416.3 C99.05,416.42 106.38,416.47 108.4,416.5 L108.4,417 L22.4,417 Z" fill="#b598c9" style="mix-blend-mode:multiply"/>
<path d="M22.4,416.3 C24.75,416.27 32.32,416.28 36.5,416.1 C40.68,415.92 44.93,415.47 47.5,415.2 C50.07,414.93 50.62,414.98 51.9,414.5 C53.18,414.02 54.2,412.85 55.2,412.3 C56.2,411.75 57.02,411.62 57.9,411.2 C58.78,410.78 59.73,410.4 60.5,409.8 C61.27,409.2 61.7,408.35 62.5,407.6 C63.3,406.85 64.42,406.32 65.3,405.3 C66.18,404.28 67.03,402.83 67.8,401.5 C68.57,400.17 69.18,398.32 69.9,397.3 C70.62,396.28 71.37,395.53 72.1,395.4 C72.83,395.27 73.67,396.4 74.3,396.5 C74.93,396.6 75.35,395.82 75.9,396 C76.45,396.18 77.05,396.68 77.6,397.6 C78.15,398.52 78.57,400.3 79.2,401.5 C79.83,402.7 80.67,403.88 81.4,404.8 C82.13,405.72 82.87,405.9 83.6,407 C84.33,408.1 84.97,410.22 85.8,411.4 C86.63,412.58 87.58,413.37 88.6,414.1 C89.62,414.83 90.62,415.43 91.9,415.8 C93.18,416.17 93.55,416.18 96.3,416.3 C99.05,416.42 106.38,416.47 108.4,416.5" fill="none" stroke="#5c1f82" stroke-width="1.4" stroke-linejoin="round" style="mix-blend-mode:multiply"/>
<path d="M22.4,428.6 C26.22,428.57 40.57,428.62 45.3,428.4 C50.03,428.18 48.97,427.75 50.8,427.3 C52.63,426.85 54.72,426.25 56.3,425.7 C57.88,425.15 59.1,424.75 60.3,424 C61.5,423.25 62.48,422.28 63.5,421.2 C64.52,420.12 65.55,418.7 66.4,417.5 C67.25,416.3 68.12,414.83 68.6,414 C69.08,413.17 68.9,413.3 69.3,412.5 C69.7,411.7 70.53,410.03 71,409.2 C71.47,408.37 71.65,407.23 72.1,407.5 C72.55,407.77 73.15,410.67 73.7,410.8 C74.25,410.93 74.85,408.57 75.4,408.3 C75.95,408.03 76.37,408.6 77,409.2 C77.63,409.8 78.47,410.8 79.2,411.9 C79.93,413 80.67,414.42 81.4,415.8 C82.13,417.18 82.87,418.73 83.6,420.2 C84.33,421.67 84.97,423.32 85.8,424.6 C86.63,425.88 84.83,427.23 88.6,427.9 C92.37,428.57 105.1,428.48 108.4,428.6 L108.4,429.2 L22.4,429.2 Z" fill="#fac892" style="mix-blend-mode:multiply"/>
<path d="M22.4,428.6 C26.22,428.57 40.57,428.62 45.3,428.4 C50.03,428.18 48.97,427.75 50.8,427.3 C52.63,426.85 54.72,426.25 56.3,425.7 C57.88,425.15 59.1,424.75 60.3,424 C61.5,423.25 62.48,422.28 63.5,421.2 C64.52,420.12 65.55,418.7 66.4,417.5 C67.25,416.3 68.12,414.83 68.6,414 C69.08,413.17 68.9,413.3 69.3,412.5 C69.7,411.7 70.53,410.03 71,409.2 C71.47,408.37 71.65,407.23 72.1,407.5 C72.55,407.77 73.15,410.67 73.7,410.8 C74.25,410.93 74.85,408.57 75.4,408.3 C75.95,408.03 76.37,408.6 77,409.2 C77.63,409.8 78.47,410.8 79.2,411.9 C79.93,413 80.67,414.42 81.4,415.8 C82.13,417.18 82.87,418.73 83.6,420.2 C84.33,421.67 84.97,423.32 85.8,424.6 C86.63,425.88 84.83,427.23 88.6,427.9 C92.37,428.57 105.1,428.48 108.4,428.6" fill="none" stroke="#f28c1a" stroke-width="1.4" stroke-linejoin="round" style="mix-blend-mode:multiply"/>
</g>
<rect x="22.4" y="350.5" width="86" height="78.1" fill="none" stroke="#151515" stroke-width="1.05"/>
<clipPath id="cBR"><rect x="112.5" y="350.3" width="85.5" height="77.8"/></clipPath>
<g clip-path="url(#cBR)">
<path d="M112.5,352 L113.1,378.1 C115.33,378.05 122.25,378 126.5,377.8 C130.75,377.6 136.03,377.23 138.6,376.9 C141.17,376.57 140.8,375.93 141.9,375.8 C143,375.67 144.1,376.28 145.2,376.1 C146.3,375.92 147.62,375.17 148.5,374.7 C149.38,374.23 149.83,374.02 150.5,373.3 C151.17,372.58 151.82,371.07 152.5,370.4 C153.18,369.73 154,370.17 154.6,369.3 C155.2,368.43 155.62,366.45 156.1,365.2 C156.58,363.95 157.12,362.45 157.5,361.8 C157.88,361.15 158.1,361.02 158.4,361.3 C158.7,361.58 158.97,362.5 159.3,363.5 C159.63,364.5 159.93,366.38 160.4,367.3 C160.87,368.22 161.55,368.27 162.1,369 C162.65,369.73 163.15,370.6 163.7,371.7 C164.25,372.8 164.67,374.68 165.4,375.6 C166.13,376.52 166.63,376.83 168.1,377.2 C169.57,377.57 169.22,377.67 174.2,377.8 C179.18,377.93 194.03,377.97 198,378 L198,378.6 L112.5,378.6 Z" fill="#e68c9a" style="mix-blend-mode:multiply"/>
<path d="M112.5,352 L113.1,378.1 C115.33,378.05 122.25,378 126.5,377.8 C130.75,377.6 136.03,377.23 138.6,376.9 C141.17,376.57 140.8,375.93 141.9,375.8 C143,375.67 144.1,376.28 145.2,376.1 C146.3,375.92 147.62,375.17 148.5,374.7 C149.38,374.23 149.83,374.02 150.5,373.3 C151.17,372.58 151.82,371.07 152.5,370.4 C153.18,369.73 154,370.17 154.6,369.3 C155.2,368.43 155.62,366.45 156.1,365.2 C156.58,363.95 157.12,362.45 157.5,361.8 C157.88,361.15 158.1,361.02 158.4,361.3 C158.7,361.58 158.97,362.5 159.3,363.5 C159.63,364.5 159.93,366.38 160.4,367.3 C160.87,368.22 161.55,368.27 162.1,369 C162.65,369.73 163.15,370.6 163.7,371.7 C164.25,372.8 164.67,374.68 165.4,375.6 C166.13,376.52 166.63,376.83 168.1,377.2 C169.57,377.57 169.22,377.67 174.2,377.8 C179.18,377.93 194.03,377.97 198,378" fill="none" stroke="#c8142f" stroke-width="1.4" stroke-linejoin="round" style="mix-blend-mode:multiply"/>
<path d="M112.5,390.7 C115.75,390.7 127.28,390.83 132,390.7 C136.72,390.57 138.42,390.27 140.8,389.9 C143.18,389.53 144.83,388.97 146.3,388.5 C147.77,388.03 148.78,387.25 149.6,387.1 C150.42,386.95 150.55,387.82 151.2,387.6 C151.85,387.38 152.6,386.6 153.5,385.8 C154.4,385 155.75,384.02 156.6,382.8 C157.45,381.58 157.87,380.07 158.6,378.5 C159.33,376.93 160.23,374.9 161,373.4 C161.77,371.9 162.57,370.23 163.2,369.5 C163.83,368.77 164.25,368.82 164.8,369 C165.35,369.18 165.95,369.87 166.5,370.6 C167.05,371.33 167.55,372.3 168.1,373.4 C168.65,374.5 169.15,375.73 169.8,377.2 C170.45,378.67 171.18,380.45 172,382.2 C172.82,383.95 173.6,386.33 174.7,387.7 C175.8,389.07 177.22,389.9 178.6,390.4 C179.98,390.9 179.77,390.65 183,390.7 C186.23,390.75 195.5,390.7 198,390.7 L198,391.3 L112.5,391.3 Z" fill="#88a6c2" style="mix-blend-mode:multiply"/>
<path d="M112.5,390.7 C115.75,390.7 127.28,390.83 132,390.7 C136.72,390.57 138.42,390.27 140.8,389.9 C143.18,389.53 144.83,388.97 146.3,388.5 C147.77,388.03 148.78,387.25 149.6,387.1 C150.42,386.95 150.55,387.82 151.2,387.6 C151.85,387.38 152.6,386.6 153.5,385.8 C154.4,385 155.75,384.02 156.6,382.8 C157.45,381.58 157.87,380.07 158.6,378.5 C159.33,376.93 160.23,374.9 161,373.4 C161.77,371.9 162.57,370.23 163.2,369.5 C163.83,368.77 164.25,368.82 164.8,369 C165.35,369.18 165.95,369.87 166.5,370.6 C167.05,371.33 167.55,372.3 168.1,373.4 C168.65,374.5 169.15,375.73 169.8,377.2 C170.45,378.67 171.18,380.45 172,382.2 C172.82,383.95 173.6,386.33 174.7,387.7 C175.8,389.07 177.22,389.9 178.6,390.4 C179.98,390.9 179.77,390.65 183,390.7 C186.23,390.75 195.5,390.7 198,390.7" fill="none" stroke="#134e8c" stroke-width="1.4" stroke-linejoin="round" style="mix-blend-mode:multiply"/>
<path d="M112.5,403.5 C115.75,403.43 127.28,403.43 132,403.1 C136.72,402.77 138.42,402.05 140.8,401.5 C143.18,400.95 144.85,400.35 146.3,399.8 C147.75,399.25 148.62,399.12 149.5,398.2 C150.38,397.28 150.88,395.58 151.6,394.3 C152.32,393.02 152.97,391.5 153.8,390.5 C154.63,389.5 155.87,388.85 156.6,388.3 C157.33,387.75 157.65,387.52 158.2,387.2 C158.75,386.88 159.43,386.22 159.9,386.4 C160.37,386.58 160.63,387.25 161,388.3 C161.37,389.35 161.65,391.23 162.1,392.7 C162.55,394.17 162.97,395.82 163.7,397.1 C164.43,398.38 165.48,399.67 166.5,400.4 C167.52,401.13 168.15,401.13 169.8,401.5 C171.45,401.87 174.2,402.27 176.4,402.6 C178.6,402.93 179.4,403.32 183,403.5 C186.6,403.68 195.5,403.67 198,403.7 L198,404.2 L112.5,404.2 Z" fill="#a0dba6" style="mix-blend-mode:multiply"/>
<path d="M112.5,403.5 C115.75,403.43 127.28,403.43 132,403.1 C136.72,402.77 138.42,402.05 140.8,401.5 C143.18,400.95 144.85,400.35 146.3,399.8 C147.75,399.25 148.62,399.12 149.5,398.2 C150.38,397.28 150.88,395.58 151.6,394.3 C152.32,393.02 152.97,391.5 153.8,390.5 C154.63,389.5 155.87,388.85 156.6,388.3 C157.33,387.75 157.65,387.52 158.2,387.2 C158.75,386.88 159.43,386.22 159.9,386.4 C160.37,386.58 160.63,387.25 161,388.3 C161.37,389.35 161.65,391.23 162.1,392.7 C162.55,394.17 162.97,395.82 163.7,397.1 C164.43,398.38 165.48,399.67 166.5,400.4 C167.52,401.13 168.15,401.13 169.8,401.5 C171.45,401.87 174.2,402.27 176.4,402.6 C178.6,402.93 179.4,403.32 183,403.5 C186.6,403.68 195.5,403.67 198,403.7" fill="none" stroke="#2db34a" stroke-width="1.4" stroke-linejoin="round" style="mix-blend-mode:multiply"/>
<path d="M112.5,416.3 C115.75,416.27 126.18,416.33 132,416.1 C137.82,415.87 144.33,415.37 147.4,414.9 C150.47,414.43 149.47,413.87 150.4,413.3 C151.33,412.73 152.15,412.05 153,411.5 C153.85,410.95 154.72,410.85 155.5,410 C156.28,409.15 156.97,407.63 157.7,406.4 C158.43,405.17 159.27,403.6 159.9,402.6 C160.53,401.6 160.95,401.32 161.5,400.4 C162.05,399.48 162.73,397.98 163.2,397.1 C163.67,396.22 163.93,395.1 164.3,395.1 C164.67,395.1 164.95,396.22 165.4,397.1 C165.85,397.98 166.45,399.12 167,400.4 C167.55,401.68 168.05,403.07 168.7,404.8 C169.35,406.53 169.98,409.25 170.9,410.8 C171.82,412.35 172.92,413.27 174.2,414.1 C175.48,414.93 177.13,415.43 178.6,415.8 C180.07,416.17 179.77,416.22 183,416.3 C186.23,416.38 195.5,416.3 198,416.3 L198,416.9 L112.5,416.9 Z" fill="#b598c9" style="mix-blend-mode:multiply"/>
<path d="M112.5,416.3 C115.75,416.27 126.18,416.33 132,416.1 C137.82,415.87 144.33,415.37 147.4,414.9 C150.47,414.43 149.47,413.87 150.4,413.3 C151.33,412.73 152.15,412.05 153,411.5 C153.85,410.95 154.72,410.85 155.5,410 C156.28,409.15 156.97,407.63 157.7,406.4 C158.43,405.17 159.27,403.6 159.9,402.6 C160.53,401.6 160.95,401.32 161.5,400.4 C162.05,399.48 162.73,397.98 163.2,397.1 C163.67,396.22 163.93,395.1 164.3,395.1 C164.67,395.1 164.95,396.22 165.4,397.1 C165.85,397.98 166.45,399.12 167,400.4 C167.55,401.68 168.05,403.07 168.7,404.8 C169.35,406.53 169.98,409.25 170.9,410.8 C171.82,412.35 172.92,413.27 174.2,414.1 C175.48,414.93 177.13,415.43 178.6,415.8 C180.07,416.17 179.77,416.22 183,416.3 C186.23,416.38 195.5,416.3 198,416.3" fill="none" stroke="#5c1f82" stroke-width="1.4" stroke-linejoin="round" style="mix-blend-mode:multiply"/>
<path d="M112.5,428.1 C117.4,428.07 136.08,428.12 141.9,427.9 C147.72,427.68 145.75,427.35 147.4,426.8 C149.05,426.25 150.62,425.2 151.8,424.6 C152.98,424 153.7,423.75 154.5,423.2 C155.3,422.65 155.98,421.87 156.6,421.3 C157.22,420.73 157.65,420.72 158.2,419.8 C158.75,418.88 159.25,417.12 159.9,415.8 C160.55,414.48 161.47,412.73 162.1,411.9 C162.73,411.07 163.15,410.92 163.7,410.8 C164.25,410.68 164.93,410.83 165.4,411.2 C165.87,411.57 166.05,411.87 166.5,413 C166.95,414.13 167.55,416.53 168.1,418 C168.65,419.47 169.15,420.62 169.8,421.8 C170.45,422.98 171.27,424.18 172,425.1 C172.73,426.02 173.47,426.82 174.2,427.3 C174.93,427.78 172.43,427.87 176.4,428 C180.37,428.13 194.4,428.08 198,428.1 L198,428.7 L112.5,428.7 Z" fill="#fac892" style="mix-blend-mode:multiply"/>
<path d="M112.5,428.1 C117.4,428.07 136.08,428.12 141.9,427.9 C147.72,427.68 145.75,427.35 147.4,426.8 C149.05,426.25 150.62,425.2 151.8,424.6 C152.98,424 153.7,423.75 154.5,423.2 C155.3,422.65 155.98,421.87 156.6,421.3 C157.22,420.73 157.65,420.72 158.2,419.8 C158.75,418.88 159.25,417.12 159.9,415.8 C160.55,414.48 161.47,412.73 162.1,411.9 C162.73,411.07 163.15,410.92 163.7,410.8 C164.25,410.68 164.93,410.83 165.4,411.2 C165.87,411.57 166.05,411.87 166.5,413 C166.95,414.13 167.55,416.53 168.1,418 C168.65,419.47 169.15,420.62 169.8,421.8 C170.45,422.98 171.27,424.18 172,425.1 C172.73,426.02 173.47,426.82 174.2,427.3 C174.93,427.78 172.43,427.87 176.4,428 C180.37,428.13 194.4,428.08 198,428.1" fill="none" stroke="#f28c1a" stroke-width="1.4" stroke-linejoin="round" style="mix-blend-mode:multiply"/>
</g>
<rect x="112.5" y="350.3" width="85.5" height="77.8" fill="none" stroke="#151515" stroke-width="1.05"/>
<line x1="23.2" y1="324.7" x2="108" y2="324.7" stroke="#444" stroke-width="1.6" stroke-dasharray="1.3 1.1"/>
<line x1="25.6" y1="323.6" x2="25.6" y2="326.6" stroke="#111" stroke-width="0.9"/>
<line x1="41.45" y1="323.6" x2="41.45" y2="326.6" stroke="#111" stroke-width="0.9"/>
<line x1="57.3" y1="323.6" x2="57.3" y2="326.6" stroke="#111" stroke-width="0.9"/>
<line x1="73.15" y1="323.6" x2="73.15" y2="326.6" stroke="#111" stroke-width="0.9"/>
<line x1="89" y1="323.6" x2="89" y2="326.6" stroke="#111" stroke-width="0.9"/>
<line x1="104.85" y1="323.6" x2="104.85" y2="326.6" stroke="#111" stroke-width="0.9"/>
<line x1="113.4" y1="324.1" x2="198" y2="324.1" stroke="#444" stroke-width="1.6" stroke-dasharray="1.3 1.1"/>
<line x1="116.4" y1="323" x2="116.4" y2="326" stroke="#111" stroke-width="0.9"/>
<line x1="132.15" y1="323" x2="132.15" y2="326" stroke="#111" stroke-width="0.9"/>
<line x1="147.9" y1="323" x2="147.9" y2="326" stroke="#111" stroke-width="0.9"/>
<line x1="163.65" y1="323" x2="163.65" y2="326" stroke="#111" stroke-width="0.9"/>
<line x1="179.4" y1="323" x2="179.4" y2="326" stroke="#111" stroke-width="0.9"/>
<line x1="195.15" y1="323" x2="195.15" y2="326" stroke="#111" stroke-width="0.9"/>
<line x1="23.2" y1="429.7" x2="107.8" y2="429.7" stroke="#444" stroke-width="1.6" stroke-dasharray="1.3 1.1"/>
<line x1="33" y1="428.6" x2="33" y2="431.6" stroke="#111" stroke-width="0.9"/>
<line x1="50.4" y1="428.6" x2="50.4" y2="431.6" stroke="#111" stroke-width="0.9"/>
<line x1="67.8" y1="428.6" x2="67.8" y2="431.6" stroke="#111" stroke-width="0.9"/>
<line x1="85.2" y1="428.6" x2="85.2" y2="431.6" stroke="#111" stroke-width="0.9"/>
<line x1="102.6" y1="428.6" x2="102.6" y2="431.6" stroke="#111" stroke-width="0.9"/>
<line x1="113.3" y1="429.2" x2="197.4" y2="429.2" stroke="#444" stroke-width="1.6" stroke-dasharray="1.3 1.1"/>
<line x1="122.7" y1="428.1" x2="122.7" y2="431.1" stroke="#111" stroke-width="0.9"/>
<line x1="140.2" y1="428.1" x2="140.2" y2="431.1" stroke="#111" stroke-width="0.9"/>
<line x1="157.7" y1="428.1" x2="157.7" y2="431.1" stroke="#111" stroke-width="0.9"/>
<line x1="175.2" y1="428.1" x2="175.2" y2="431.1" stroke="#111" stroke-width="0.9"/>
<line x1="192.7" y1="428.1" x2="192.7" y2="431.1" stroke="#111" stroke-width="0.9"/>
<text x="25" y="333.9" font-size="6.6" text-anchor="middle" fill="#333" stroke="#333" stroke-width="0.15">10</text>
<text x="28.6" y="331.4" font-size="3.96" fill="#333">1</text>
<text x="40.85" y="333.9" font-size="6.6" text-anchor="middle" fill="#333" stroke="#333" stroke-width="0.15">10</text>
<text x="44.45" y="331.4" font-size="3.96" fill="#333">2</text>
<text x="56.7" y="333.9" font-size="6.6" text-anchor="middle" fill="#333" stroke="#333" stroke-width="0.15">10</text>
<text x="60.3" y="331.4" font-size="3.96" fill="#333">3</text>
<text x="72.55" y="333.9" font-size="6.6" text-anchor="middle" fill="#333" stroke="#333" stroke-width="0.15">10</text>
<text x="76.15" y="331.4" font-size="3.96" fill="#333">4</text>
<text x="88.4" y="333.9" font-size="6.6" text-anchor="middle" fill="#333" stroke="#333" stroke-width="0.15">10</text>
<text x="92" y="331.4" font-size="3.96" fill="#333">5</text>
<text x="104.25" y="333.9" font-size="6.6" text-anchor="middle" fill="#333" stroke="#333" stroke-width="0.15">10</text>
<text x="107.85" y="331.4" font-size="3.96" fill="#333">6</text>
<text x="115.8" y="333.6" font-size="6.6" text-anchor="middle" fill="#333" stroke="#333" stroke-width="0.15">10</text>
<text x="119.4" y="331.1" font-size="3.96" fill="#333">1</text>
<text x="131.55" y="333.6" font-size="6.6" text-anchor="middle" fill="#333" stroke="#333" stroke-width="0.15">10</text>
<text x="135.15" y="331.1" font-size="3.96" fill="#333">2</text>
<text x="147.3" y="333.6" font-size="6.6" text-anchor="middle" fill="#333" stroke="#333" stroke-width="0.15">10</text>
<text x="150.9" y="331.1" font-size="3.96" fill="#333">3</text>
<text x="163.05" y="333.6" font-size="6.6" text-anchor="middle" fill="#333" stroke="#333" stroke-width="0.15">10</text>
<text x="166.65" y="331.1" font-size="3.96" fill="#333">4</text>
<text x="178.8" y="333.6" font-size="6.6" text-anchor="middle" fill="#333" stroke="#333" stroke-width="0.15">10</text>
<text x="182.4" y="331.1" font-size="3.96" fill="#333">5</text>
<text x="194.55" y="333.6" font-size="6.6" text-anchor="middle" fill="#333" stroke="#333" stroke-width="0.15">10</text>
<text x="198.15" y="331.1" font-size="3.96" fill="#333">6</text>
<text x="32.4" y="438.6" font-size="6.6" text-anchor="middle" fill="#333" stroke="#333" stroke-width="0.15">10</text>
<text x="36" y="436.1" font-size="3.96" fill="#333">1</text>
<text x="49.8" y="438.6" font-size="6.6" text-anchor="middle" fill="#333" stroke="#333" stroke-width="0.15">10</text>
<text x="53.4" y="436.1" font-size="3.96" fill="#333">2</text>
<text x="67.2" y="438.6" font-size="6.6" text-anchor="middle" fill="#333" stroke="#333" stroke-width="0.15">10</text>
<text x="70.8" y="436.1" font-size="3.96" fill="#333">3</text>
<text x="84.6" y="438.6" font-size="6.6" text-anchor="middle" fill="#333" stroke="#333" stroke-width="0.15">10</text>
<text x="88.2" y="436.1" font-size="3.96" fill="#333">4</text>
<text x="102" y="438.6" font-size="6.6" text-anchor="middle" fill="#333" stroke="#333" stroke-width="0.15">10</text>
<text x="105.6" y="436.1" font-size="3.96" fill="#333">5</text>
<text x="122.1" y="438.6" font-size="6.6" text-anchor="middle" fill="#333" stroke="#333" stroke-width="0.15">10</text>
<text x="125.7" y="436.1" font-size="3.96" fill="#333">1</text>
<text x="139.6" y="438.6" font-size="6.6" text-anchor="middle" fill="#333" stroke="#333" stroke-width="0.15">10</text>
<text x="143.2" y="436.1" font-size="3.96" fill="#333">2</text>
<text x="157.1" y="438.6" font-size="6.6" text-anchor="middle" fill="#333" stroke="#333" stroke-width="0.15">10</text>
<text x="160.7" y="436.1" font-size="3.96" fill="#333">3</text>
<text x="174.6" y="438.6" font-size="6.6" text-anchor="middle" fill="#333" stroke="#333" stroke-width="0.15">10</text>
<text x="178.2" y="436.1" font-size="3.96" fill="#333">4</text>
<text x="192.1" y="438.6" font-size="6.6" text-anchor="middle" fill="#333" stroke="#333" stroke-width="0.15">10</text>
<text x="195.7" y="436.1" font-size="3.96" fill="#333">5</text>
<line x1="15.9" y1="336.6" x2="15.9" y2="253.7" stroke="#444" stroke-width="1.5"/>
<line x1="15.15" y1="336.6" x2="189.8" y2="336.6" stroke="#444" stroke-width="1.3"/>
<path d="M15.9,246.2 L18.6,254.5 L13.2,254.5 Z" fill="#111"/>
<path d="M197.8,336.6 L189.3,334.4 L189.3,338.8 Z" fill="#111"/>
<line x1="16.3" y1="442" x2="16.3" y2="359.5" stroke="#444" stroke-width="1.5"/>
<line x1="15.55" y1="442" x2="189.2" y2="442" stroke="#444" stroke-width="1.3"/>
<path d="M16.3,352 L19,360.3 L13.6,360.3 Z" fill="#111"/>
<path d="M197.2,442 L188.7,439.8 L188.7,444.2 Z" fill="#111"/>
<text x="65.1" y="241.3" font-size="7.5" stroke="#222" stroke-width="0.22" text-anchor="middle" textLength="45.6" lengthAdjust="spacingAndGlyphs">CD4+ T-cells</text>
<text x="155.5" y="241.1" font-size="7.5" stroke="#222" stroke-width="0.22" text-anchor="middle" textLength="45.4" lengthAdjust="spacingAndGlyphs">CD8+ T-cells</text>
<text x="107.1" y="344.7" font-size="8" stroke="#222" stroke-width="0.22" text-anchor="middle" textLength="20" lengthAdjust="spacingAndGlyphs">CD69</text>
<text x="107.2" y="449.7" font-size="8" stroke="#222" stroke-width="0.22" text-anchor="middle" textLength="20.2" lengthAdjust="spacingAndGlyphs">CD25</text>
<text x="11.8" y="295" font-size="8" stroke="#222" stroke-width="0.22" text-anchor="middle" textLength="74" lengthAdjust="spacingAndGlyphs" transform="rotate(-90 11.8 295)">Normalized to mode</text>
<text x="12.2" y="401" font-size="8" stroke="#222" stroke-width="0.22" text-anchor="middle" textLength="74" lengthAdjust="spacingAndGlyphs" transform="rotate(-90 12.2 401)">Normalized to mode</text>
<text x="201" y="264.2" font-size="6.4" stroke="#222" stroke-width="0.12" textLength="14.3" lengthAdjust="spacingAndGlyphs">FMO</text>
<text x="201" y="282.2" font-size="6.4" stroke="#222" stroke-width="0.12" textLength="18.7" lengthAdjust="spacingAndGlyphs">DMSO</text>
<text x="201" y="295" font-size="6.4" stroke="#222" stroke-width="0.12" textLength="25" lengthAdjust="spacingAndGlyphs">1&#956;M Ibru</text>
<text x="201" y="308" font-size="6.4" stroke="#222" stroke-width="0.12" textLength="28.6" lengthAdjust="spacingAndGlyphs">1&#956;M Veca</text>
<text x="201" y="321.2" font-size="6.4" stroke="#222" stroke-width="0.12" textLength="25" lengthAdjust="spacingAndGlyphs">1&#956;M Tira</text>
<path d="M226.6,276.7 H231.4 V323.2 H226.6" fill="none" stroke="#2b6cae" stroke-width="1.1"/>
<text x="243" y="290.3" font-size="5.8" stroke="#222" stroke-width="0.22" text-anchor="middle">+</text>
<text x="243" y="297.9" font-size="6.9" stroke="#222" stroke-width="0.22" text-anchor="middle" textLength="14.3" lengthAdjust="spacingAndGlyphs">Anti-</text>
<text x="242.9" y="305.9" font-size="6.9" stroke="#222" stroke-width="0.22" text-anchor="middle" textLength="15.1" lengthAdjust="spacingAndGlyphs">CD3/</text>
<text x="243.1" y="313.3" font-size="6.9" stroke="#222" stroke-width="0.22" text-anchor="middle" textLength="16.3" lengthAdjust="spacingAndGlyphs">CD28</text>
<text x="201" y="369.5" font-size="6.4" stroke="#222" stroke-width="0.12" textLength="14.3" lengthAdjust="spacingAndGlyphs">FMO</text>
<text x="201" y="387.3" font-size="6.4" stroke="#222" stroke-width="0.12" textLength="18.7" lengthAdjust="spacingAndGlyphs">DMSO</text>
<text x="201" y="400.8" font-size="6.4" stroke="#222" stroke-width="0.12" textLength="25" lengthAdjust="spacingAndGlyphs">1&#956;M Ibru</text>
<text x="201" y="413.5" font-size="6.4" stroke="#222" stroke-width="0.12" textLength="28.6" lengthAdjust="spacingAndGlyphs">1&#956;M Veca</text>
<text x="201" y="426.5" font-size="6.4" stroke="#222" stroke-width="0.12" textLength="25" lengthAdjust="spacingAndGlyphs">1&#956;M Tira</text>
<path d="M226.9,381.5 H231.7 V427.6 H226.9" fill="none" stroke="#2b6cae" stroke-width="1.1"/>
<text x="243" y="395.7" font-size="5.8" stroke="#222" stroke-width="0.22" text-anchor="middle">+</text>
<text x="243" y="403.3" font-size="6.9" stroke="#222" stroke-width="0.22" text-anchor="middle" textLength="14.3" lengthAdjust="spacingAndGlyphs">Anti-</text>
<text x="242.9" y="411.3" font-size="6.9" stroke="#222" stroke-width="0.22" text-anchor="middle" textLength="15.1" lengthAdjust="spacingAndGlyphs">CD3/</text>
<text x="243.1" y="418.7" font-size="6.9" stroke="#222" stroke-width="0.22" text-anchor="middle" textLength="16.3" lengthAdjust="spacingAndGlyphs">CD28</text>
</svg>
</body></html>
